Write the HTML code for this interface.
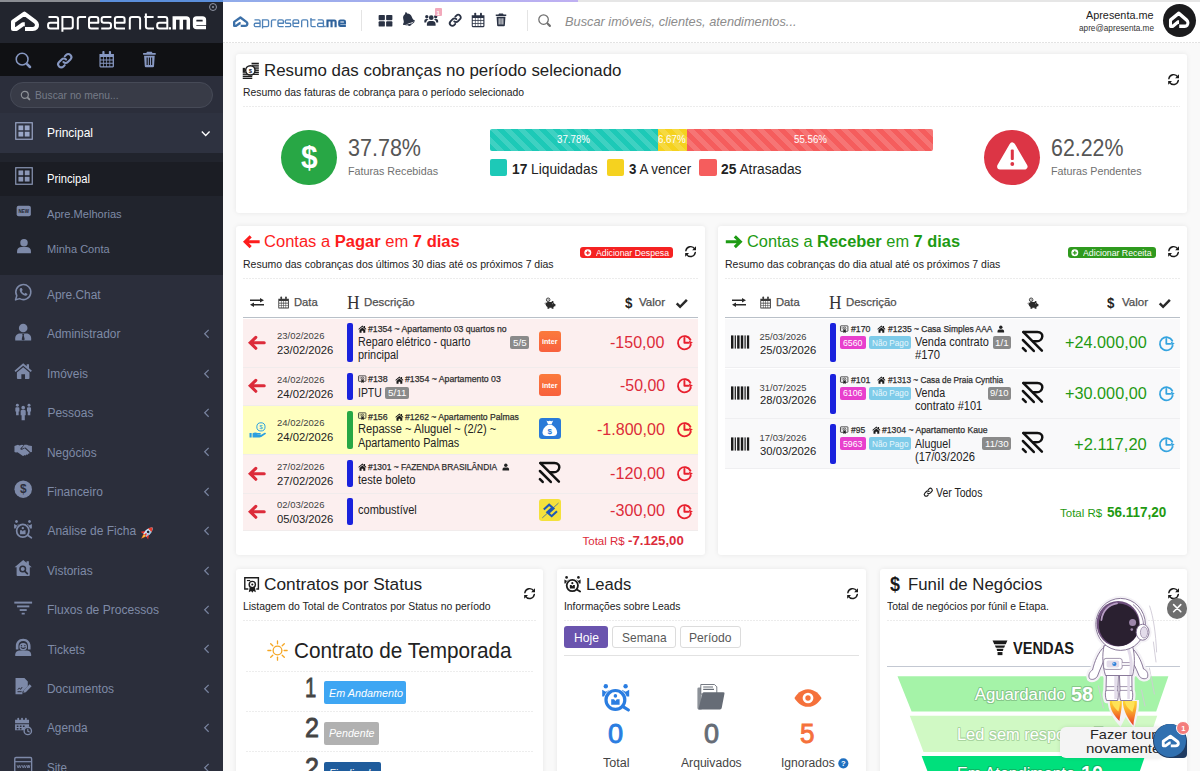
<!DOCTYPE html>
<html lang="pt-br">
<head>
<meta charset="utf-8">
<title>Apresenta.me</title>
<style>
*{box-sizing:border-box;margin:0;padding:0}
html,body{width:1200px;height:771px;overflow:hidden}
body{background:#f9f9f9;font-family:"Liberation Sans",sans-serif;color:#222;position:relative}
.abs{position:absolute}
.t{position:absolute;white-space:nowrap;line-height:1}
svg{display:block;overflow:visible}
#sb{position:absolute;left:0;top:0;width:223px;height:771px;background:#2b2e3b;overflow:hidden}
#sb .logo{position:absolute;left:0;top:0;width:223px;height:43px;background:#22252e}
#sb .icons{position:absolute;left:0;top:43px;width:223px;height:33px;background:#101114}
#sb .search{position:absolute;left:10px;top:82px;width:203px;height:26px;border-radius:13px;background:#383b47;border:1px solid #464a57}
#sb .hd{position:absolute;left:0;top:113px;width:223px;height:39.5px;background:#2e3240}
#sb .sub{position:absolute;left:0;top:152.5px;width:223px;height:122px;background:#21242d}
#sb .act{position:absolute;left:0;top:162px;width:223px;height:34px;background:#1b1d24}
#tb{position:absolute;left:223px;top:0;width:977px;height:43px;background:#fff;background-image:repeating-linear-gradient(90deg,#e3e3e3 0 2px,#fff 2px 3px);background-size:100% 1px;background-position:0 100%;background-repeat:no-repeat}
.card{position:absolute;background:#fff;border-radius:3px;box-shadow:0 0 5px rgba(0,0,0,.08)}
.bdg{position:absolute;border-radius:2px;color:#fff;text-align:center;white-space:nowrap;line-height:1}
</style>
</head>
<body>
<div id="sb">
<div class="logo"></div><div class="icons"></div><div class="search"></div><div class="hd"></div><div class="sub"></div><div class="act"></div>
<div class="abs" style="left:0;top:0;width:100px;height:2px;background:#8a8d93"></div>
<div class="abs" style="left:100px;top:0;width:123px;height:2px;background:#5b8fdc"></div>
<svg class="abs" style="left:10.9px;top:10.9px" width="28" height="20" viewBox="10.9 10.9 28 20"><path d="M24.9 28.95 H32.6 C35.6 28.95 37.1 26.8 36.85 24.5 C36.7 23.3 36.1 22.3 35.05 21.55 L24.3 13.55 L12.95 21.6 V28.85 H16.4 L23.0 24.1 H24.7" fill="none" stroke="#fff" stroke-width="4.1" stroke-linejoin="round" stroke-linecap="butt"/></svg>
<svg class="abs" style="left:46px;top:12px" width="162" height="21" viewBox="46 12 162 21"><path d="M48.5 17.0 H55.800000000000004 Q58.1 17.0 58.1 19.3 V29.5 M58.1 22.75 H50.4 Q48.1 22.75 48.1 25.05 V26.2 Q48.1 28.5 50.4 28.5 H58.1 M62.4 16.0 V31.7 M62.4 17.0 H70.5 Q72.8 17.0 72.8 19.3 V26.2 Q72.8 28.5 70.5 28.5 H62.4 M77.8 29.5 V19.3 Q77.8 17.0 80.1 17.0 H86.1 M98.7 28.5 H91.3 Q89.0 28.5 89.0 26.2 V19.3 Q89.0 17.0 91.3 17.0 H96.0 Q98.3 17.0 98.3 19.3 V22.75 H89.0 M111.4 17.0 H103.89999999999999 Q101.6 17.0 101.6 19.3 V20.45 Q101.6 22.75 103.89999999999999 22.75 H108.7 Q111.0 22.75 111.0 25.05 V26.2 Q111.0 28.5 108.7 28.5 H101.19999999999999 M125.0 28.5 H117.2 Q114.9 28.5 114.9 26.2 V19.3 Q114.9 17.0 117.2 17.0 H122.3 Q124.6 17.0 124.6 19.3 V22.75 H114.9 M129.8 29.5 V19.3 Q129.8 17.0 132.10000000000002 17.0 H137.79999999999998 Q140.1 17.0 140.1 19.3 V29.5 M145.9 13.6 V26.2 Q145.9 28.5 148.20000000000002 28.5 H154.0 M144.3 17.0 H153.6 M157.6 17.0 H165.0 Q167.3 17.0 167.3 19.3 V29.5 M167.3 22.75 H159.5 Q157.2 22.75 157.2 25.05 V26.2 Q157.2 28.5 159.5 28.5 H167.3" fill="none" stroke="#fff" stroke-width="2.0" stroke-linecap="butt" stroke-linejoin="round"/><rect x="168.8" y="27.2" width="2.2" height="2.3" fill="#fff"/><path d="M174.3 29.5 V18.0 H186.3 Q188.3 18.0 188.3 20.0 V29.5 M181.3 18.0 V29.5 M206.0 27.5 H196.6 Q194.6 27.5 194.6 25.5 V20.0 Q194.6 18.0 196.6 18.0 H202.4 Q204.4 18.0 204.4 20.0 V23.15 H194.6" fill="none" stroke="#fff" stroke-width="3.5" stroke-linecap="butt" stroke-linejoin="miter"/></svg>
<div class="abs" style="left:209px;top:3px;width:8px;height:8px;border-radius:50%;border:1.3px solid #8e94a3"></div>
<div class="abs" style="left:211.7px;top:5.7px;width:2.6px;height:2.6px;border-radius:50%;background:#8e94a3"></div>
<svg class="abs" style="left:13.6px;top:50.8px" width="18.6" height="18.6" viewBox="0 0 24 24"><circle cx="10.5" cy="10.5" r="7.6" fill="none" stroke="#8798c2" stroke-width="2.0"/><path d="M17.2 17.2 L20.6 20.6" stroke="#8798c2" stroke-width="3.4" stroke-linecap="round"/></svg>
<svg class="abs" style="left:56px;top:51.5px" width="17.5" height="17.5" viewBox="0 0 24 24"><g fill="none" stroke="#8798c2" stroke-width="2.8" stroke-linecap="round"><path d="M10.2 13.8 a4.2 4.2 0 0 0 6 0 l3.6 -3.6 a4.24 4.24 0 0 0 -6 -6 l-1.8 1.8"/><path d="M13.8 10.2 a4.2 4.2 0 0 0 -6 0 l-3.6 3.6 a4.24 4.24 0 0 0 6 6 l1.8 -1.8"/></g></svg>
<svg class="abs" style="left:98px;top:50.2px" width="17.4" height="18.6" viewBox="0 0 24 25"><path fill="#8798c2" fill-rule="evenodd" d="M2 5.2 h20 v17 a1.6 1.6 0 0 1 -1.6 1.6 h-16.8 a1.6 1.6 0 0 1 -1.6 -1.6 z M3.6 9.4 v3.4 h3.4 v-3.4 z M8.0 9.4 v3.4 h3.4 v-3.4 z M12.4 9.4 v3.4 h3.4 v-3.4 z M16.8 9.4 v3.4 h3.4 v-3.4 z M3.6 14.0 v3.4 h3.4 v-3.4 z M8.0 14.0 v3.4 h3.4 v-3.4 z M12.4 14.0 v3.4 h3.4 v-3.4 z M16.8 14.0 v3.4 h3.4 v-3.4 z M3.6 18.6 v3.4 h3.4 v-3.4 z M8.0 18.6 v3.4 h3.4 v-3.4 z M12.4 18.6 v3.4 h3.4 v-3.4 z M16.8 18.6 v3.4 h3.4 v-3.4 z "/><rect x="6" y="1" width="3" height="6.4" rx="1.2" fill="#8798c2"/><rect x="15" y="1" width="3" height="6.4" rx="1.2" fill="#8798c2"/></svg>
<svg class="abs" style="left:140.5px;top:50px" width="16.8" height="18.8" viewBox="0 0 24 25"><path fill="#8798c2" d="M8.6 1.4 h6.8 l1 2 h4.6 v2.6 h-18 v-2.6 h4.6 z"/><path fill="#8798c2" fill-rule="evenodd" d="M4.4 7.2 h15.2 l-1 15 a1.6 1.6 0 0 1 -1.6 1.4 h-10 a1.6 1.6 0 0 1 -1.6 -1.4 z M8 9.8 v10.6 h1.6 v-10.6 z M11.2 9.8 v10.6 h1.6 v-10.6 z M14.4 9.8 v10.6 h1.6 v-10.6 z"/></svg>
<svg class="abs" style="left:19.5px;top:89.5px" width="11" height="11" viewBox="0 0 24 24"><circle cx="10.5" cy="10.5" r="7.6" fill="none" stroke="#8f9399" stroke-width="2.6"/><path d="M17.2 17.2 L20.6 20.6" stroke="#8f9399" stroke-width="4.0" stroke-linecap="round"/></svg>
<span class="t" style="top:90.00px;font-size:11.5px;color:#767b88;left:35.00px;transform:scaleX(0.8947);transform-origin:0 50%;">Buscar no menu...</span>
<svg class="abs" style="left:14.6px;top:121.6px" width="18" height="18" viewBox="0 0 24 24"><rect x="1" y="1" width="22" height="22" fill="none" stroke="#9aa6c6" stroke-width="1.6"/><rect x="4.6" y="4.6" width="6.4" height="6.4" fill="#9aa6c6"/><rect x="13" y="4.6" width="6.4" height="6.4" fill="#9aa6c6"/><rect x="4.6" y="13" width="6.4" height="6.4" fill="#9aa6c6"/><rect x="13" y="13" width="6.4" height="6.4" fill="#9aa6c6"/></svg>
<span class="t" style="top:126.00px;font-size:13px;color:#fff;left:47.40px;transform:scaleX(0.9226);transform-origin:0 50%;">Principal</span>
<svg class="abs" style="left:201.4px;top:130px" width="9.4" height="7" viewBox="0 0 12 9"><path d="M1 2 L6 7 L11 2" fill="none" stroke="#fff" stroke-width="1.7"/></svg>
<svg class="abs" style="left:14.6px;top:167px" width="18" height="18" viewBox="0 0 24 24"><rect x="1" y="1" width="22" height="22" fill="none" stroke="#8b97b6" stroke-width="1.6"/><rect x="4.6" y="4.6" width="6.4" height="6.4" fill="#8b97b6"/><rect x="13" y="4.6" width="6.4" height="6.4" fill="#8b97b6"/><rect x="4.6" y="13" width="6.4" height="6.4" fill="#8b97b6"/><rect x="13" y="13" width="6.4" height="6.4" fill="#8b97b6"/></svg>
<span class="t" style="top:173.00px;font-size:12.3px;color:#fff;left:47.40px;transform:scaleX(0.9116);transform-origin:0 50%;">Principal</span>
<svg class="abs" style="left:16px;top:203px" width="15.5" height="16" viewBox="0 0 24 24"><rect x="1" y="4" width="22" height="16" rx="3" fill="#7d89a8"/><text x="12" y="14.6" font-family="Liberation Sans" font-size="7" font-weight="700" text-anchor="middle" fill="#21242d">NEW</text></svg>
<span class="t" style="top:209.00px;font-size:11.4px;color:#7f8ba7;left:47.40px;transform:scaleX(0.9738);transform-origin:0 50%;">Apre.Melhorias</span>
<svg class="abs" style="left:16px;top:237px;" width="16" height="18" viewBox="0 0 24 24"><circle cx="12" cy="7" r="5.6" fill="#7d89a8"/><path fill="#7d89a8" d="M1.6 23 v-3.4 c0 -4 3.4 -6 6.4 -6 h8 c3 0 6.4 2 6.4 6 v3.4 z"/></svg>
<span class="t" style="top:244.00px;font-size:11.4px;color:#7f8ba7;left:47.40px;transform:scaleX(0.9691);transform-origin:0 50%;">Minha Conta</span>
<span class="t" style="top:289.00px;font-size:12px;color:#7f8ba7;left:47.40px;transform:scaleX(0.9920);transform-origin:0 50%;">Apre.Chat</span>
<svg class="abs" style="left:14.3px;top:283.4px" width="18.4" height="18.4" viewBox="0 0 24 24"><path fill="none" stroke="#7d89a8" stroke-width="2" stroke-linejoin="round" d="M2 22 l1.6 -5.4 a9.8 9.8 0 1 1 3.8 3.8 z"/><path fill="#7d89a8" d="M8.6 6.6 c-0.8 0.6 -1.4 1.6 -1.2 2.8 c0.6 3.4 3.8 6.6 7.2 7.2 c1.2 0.2 2.2 -0.4 2.8 -1.2 l0.2 -1.2 l-2.6 -1.4 l-1.2 1.2 c-1.6 -0.6 -3 -2 -3.6 -3.6 l1.2 -1.2 l-1.4 -2.8 z"/></svg>
<span class="t" style="top:328.00px;font-size:12px;color:#7f8ba7;left:47.40px;transform:scaleX(0.9915);transform-origin:0 50%;">Administrador</span>
<svg class="abs" style="left:14.3px;top:322.79999999999995px" width="18.4" height="18.4" viewBox="0 0 24 24"><circle cx="12" cy="6.6" r="5.6" fill="#7d89a8"/><path fill="#7d89a8" d="M1.6 23 v-3 c0 -4 3 -6.2 6.4 -6.2 h8 c3.4 0 6.4 2.2 6.4 6.2 v3 z"/><path fill="#2b2e3b" d="M10.6 14 h2.8 l-0.6 2 l1.2 5.6 l-2 1.4 l-2 -1.4 l1.2 -5.6 z"/></svg>
<svg class="abs" style="left:203.4px;top:329.2px" width="6.5" height="9.6" viewBox="0 0 8 12"><path d="M7 1 L2 6 L7 11" fill="none" stroke="#7984a0" stroke-width="1.5"/></svg>
<span class="t" style="top:368.00px;font-size:12px;color:#7f8ba7;left:47.40px;transform:scaleX(0.9917);transform-origin:0 50%;">Imóveis</span>
<svg class="abs" style="left:14.3px;top:362.19999999999993px" width="18.4" height="18.4" viewBox="0 0 24 24"><path fill="#7d89a8" d="M12 1.6 L0.6 11.4 L2.2 13.2 L12 4.8 L21.8 13.2 L23.4 11.4 L19.6 8.1 V3 H16.6 V5.5 Z"/><path fill="#7d89a8" d="M12 6.8 L3.8 13.8 V21 a1.2 1.2 0 0 0 1.2 1.2 H9.6 V16 h4.8 v6.2 H19 a1.2 1.2 0 0 0 1.2 -1.2 V13.8 Z"/></svg>
<svg class="abs" style="left:203.4px;top:368.59999999999997px" width="6.5" height="9.6" viewBox="0 0 8 12"><path d="M7 1 L2 6 L7 11" fill="none" stroke="#7984a0" stroke-width="1.5"/></svg>
<span class="t" style="top:407.00px;font-size:12px;color:#7f8ba7;left:47.40px;">Pessoas</span>
<svg class="abs" style="left:14.3px;top:401.5999999999999px" width="18.4" height="18.4" viewBox="0 0 24 24"><circle cx="4.4" cy="4.32" r="1.92" fill="#7d89a8"/><path fill="#7d89a8" d="M1.76 8.24 a1.4 1.4 0 0 1 1.4 -1.4 h2.48 a1.4 1.4 0 0 1 1.4 1.4 v4.08 h-0.96 v5.12 h-3.36 v-5.12 h-0.96 z"/><circle cx="12" cy="7.4" r="2.40" fill="#7d89a8"/><path fill="#7d89a8" d="M8.70 11.80 a1.4 1.4 0 0 1 1.4 -1.4 h3.80 a1.4 1.4 0 0 1 1.4 1.4 v5.60 h-1.20 v6.40 h-4.20 v-6.40 h-1.20 z"/><circle cx="19.6" cy="4.32" r="1.92" fill="#7d89a8"/><path fill="#7d89a8" d="M16.96 8.24 a1.4 1.4 0 0 1 1.4 -1.4 h2.48 a1.4 1.4 0 0 1 1.4 1.4 v4.08 h-0.96 v5.12 h-3.36 v-5.12 h-0.96 z"/></svg>
<svg class="abs" style="left:203.4px;top:407.99999999999994px" width="6.5" height="9.6" viewBox="0 0 8 12"><path d="M7 1 L2 6 L7 11" fill="none" stroke="#7984a0" stroke-width="1.5"/></svg>
<span class="t" style="top:447.00px;font-size:12px;color:#7f8ba7;left:47.40px;transform:scaleX(0.9914);transform-origin:0 50%;">Negócios</span>
<svg class="abs" style="left:14.3px;top:440.9999999999999px" width="18.4" height="18.4" viewBox="0 0 24 24"><path fill="#7d89a8" d="M0.6 6.4 L5.2 5 L7 6 L10.4 4.8 L12.6 5.6 L8.6 9.4 C8 10.2 8.4 11.2 9.4 11.4 C10.6 11.6 11.6 10.8 12.6 10 L14 9.6 L20 15 C20.6 15.8 20 16.8 19 16.6 L18.2 16.2 C18.6 17.2 17.8 18 16.8 17.8 L16 17.4 C16.2 18.4 15.4 19 14.4 18.8 L13.4 18.4 C13.2 19.4 12.2 19.8 11.2 19.2 L4.6 14.6 L2.6 15 L0.6 14.4 Z"/><path fill="#7d89a8" d="M13.6 5 L17 4.8 L19 5.8 L23.4 6.4 V14.4 L21.6 14.8 L15 8.6 L12.4 9.2 C11.6 9.8 10.6 10.4 9.8 10.2 L13.6 5 Z" opacity="0.95"/></svg>
<svg class="abs" style="left:203.4px;top:447.3999999999999px" width="6.5" height="9.6" viewBox="0 0 8 12"><path d="M7 1 L2 6 L7 11" fill="none" stroke="#7984a0" stroke-width="1.5"/></svg>
<span class="t" style="top:486.00px;font-size:12px;color:#7f8ba7;left:47.40px;transform:scaleX(0.9959);transform-origin:0 50%;">Financeiro</span>
<svg class="abs" style="left:14.3px;top:480.39999999999986px" width="18.4" height="18.4" viewBox="0 0 24 24"><circle cx="12" cy="12" r="11.4" fill="#7d89a8"/><text x="12" y="17.6" font-family="Liberation Sans" font-size="15.5" font-weight="700" text-anchor="middle" fill="#2b2e3b">$</text></svg>
<svg class="abs" style="left:203.4px;top:486.7999999999999px" width="6.5" height="9.6" viewBox="0 0 8 12"><path d="M7 1 L2 6 L7 11" fill="none" stroke="#7984a0" stroke-width="1.5"/></svg>
<span class="t" style="top:525.00px;font-size:12px;color:#7f8ba7;left:47.40px;">Análise de Ficha</span>
<svg class="abs" style="left:14.3px;top:519.7999999999998px" width="18.4" height="18.4" viewBox="0 0 24 24"><g transform="scale(0.857 0.889)"><circle cx="3.8" cy="2.3" r="2.2" fill="#7d89a8"/><path fill="#7d89a8" d="M0.2 5.8 L3.8 7.8 L7.4 5.8 V12.4 H0.2 Z"/><circle cx="23.6" cy="2.3" r="2.2" fill="#7d89a8"/><path fill="#7d89a8" d="M20 5.8 L23.6 7.8 L27.2 5.8 V12.4 H20 Z"/><circle cx="13.4" cy="15.9" r="11.4" fill="#2b2e3b"/><circle cx="13.4" cy="15.9" r="9.4" fill="none" stroke="#7d89a8" stroke-width="2.6"/><path d="M21.4 22.8 L26.4 26" stroke="#7d89a8" stroke-width="2.6" stroke-linecap="round"/><circle cx="13.4" cy="11.9" r="1.8" fill="#7d89a8"/><path fill="#7d89a8" d="M9.2 15.2 H12 L13.4 17 L14.8 15.2 H17.6 V20.8 H9.2 Z"/></g></svg>
<svg class="abs" style="left:203.4px;top:526.1999999999998px" width="6.5" height="9.6" viewBox="0 0 8 12"><path d="M7 1 L2 6 L7 11" fill="none" stroke="#7984a0" stroke-width="1.5"/></svg>
<svg class="abs" style="left:138.6px;top:524.8px" width="16" height="16" viewBox="0 0 24 24"><g transform="rotate(45 12 12)"><path fill="#cde4f6" d="M12 0.4 C16.4 4 17 10 15.8 16.6 H8.2 C7 10 7.6 4 12 0.4 Z"/><path fill="#9fc3e0" d="M12 0.4 C16.4 4 17 10 15.8 16.6 H13.4 C14.4 10 14 4 12 0.4 Z"/><path fill="#e83a2a" d="M12 0.4 C13.8 2 15 3.8 15.7 6 H8.3 C9 3.8 10.2 2 12 0.4 Z"/><circle cx="12" cy="9.6" r="2" fill="#1c2230"/><path fill="#e8302a" d="M8.2 11.6 L4 17.6 L8.6 16.8 Z M15.8 11.6 L20 17.6 L15.4 16.8 Z M10.8 13 H13.2 V18 H10.8 Z"/><path fill="#f26a2a" d="M9.2 16.8 H14.8 L12 24.4 Z"/><path fill="#fdd23a" d="M10.4 16.8 H13.6 L12 22 Z"/></g></svg>
<span class="t" style="top:565.00px;font-size:12px;color:#7f8ba7;left:47.40px;transform:scaleX(0.9957);transform-origin:0 50%;">Vistorias</span>
<svg class="abs" style="left:14.3px;top:559.1999999999998px" width="18.4" height="18.4" viewBox="0 0 24 24"><path fill="#7d89a8" d="M12 1.2 L0.8 10.8 L3.4 10.8 V21 a1.2 1.2 0 0 0 1.2 1.2 H19.4 a1.2 1.2 0 0 0 1.2 -1.2 V10.8 L23.2 10.8 L19.4 7.6 V2.8 H16.4 V5 Z"/><circle cx="11.4" cy="13" r="3.6" fill="none" stroke="#2b2e3b" stroke-width="2"/><path d="M14 15.8 L17.4 19.2" stroke="#2b2e3b" stroke-width="2.4" stroke-linecap="round"/></svg>
<svg class="abs" style="left:203.4px;top:565.5999999999998px" width="6.5" height="9.6" viewBox="0 0 8 12"><path d="M7 1 L2 6 L7 11" fill="none" stroke="#7984a0" stroke-width="1.5"/></svg>
<span class="t" style="top:604.00px;font-size:12px;color:#7f8ba7;left:47.40px;transform:scaleX(1.0055);transform-origin:0 50%;">Fluxos de Processos</span>
<svg class="abs" style="left:14.3px;top:598.5999999999998px" width="18.4" height="18.4" viewBox="0 0 24 24"><rect x="0.4" y="3.4" width="23.2" height="2.6" fill="#7d89a8"/><rect x="4" y="8.4" width="16" height="2.5" fill="#7d89a8"/><rect x="7.4" y="13.2" width="9.2" height="2.4" fill="#7d89a8"/><rect x="10" y="18" width="4" height="2.2" fill="#7d89a8"/></svg>
<svg class="abs" style="left:203.4px;top:604.9999999999998px" width="6.5" height="9.6" viewBox="0 0 8 12"><path d="M7 1 L2 6 L7 11" fill="none" stroke="#7984a0" stroke-width="1.5"/></svg>
<span class="t" style="top:644.00px;font-size:12px;color:#7f8ba7;left:47.40px;">Tickets</span>
<svg class="abs" style="left:14.3px;top:637.9999999999998px" width="18.4" height="18.4" viewBox="0 0 24 24"><path fill="#7d89a8" d="M12 1 C6 1 2.4 5.2 2.4 10.6 V15 h3.4 V10 C5.8 6.4 8.4 4 12 4 C15.6 4 18.2 6.4 18.2 10 V15 h3.4 V10.6 C21.6 5.2 18 1 12 1 Z"/><circle cx="12" cy="11.4" r="5" fill="#7d89a8"/><path fill="#7d89a8" d="M1.6 23.4 v-2 c0 -3.4 3 -5 5.6 -5 h9.6 c2.6 0 5.6 1.6 5.6 5 v2 z"/><path d="M9.4 12.6 q2.6 2 5.2 0" fill="none" stroke="#2b2e3b" stroke-width="1.4" stroke-linecap="round"/><circle cx="9.8" cy="10" r="0.9" fill="#2b2e3b"/><circle cx="14.2" cy="10" r="0.9" fill="#2b2e3b"/></svg>
<svg class="abs" style="left:203.4px;top:644.3999999999997px" width="6.5" height="9.6" viewBox="0 0 8 12"><path d="M7 1 L2 6 L7 11" fill="none" stroke="#7984a0" stroke-width="1.5"/></svg>
<span class="t" style="top:683.00px;font-size:12px;color:#7f8ba7;left:47.40px;transform:scaleX(0.9944);transform-origin:0 50%;">Documentos</span>
<svg class="abs" style="left:14.3px;top:677.3999999999997px" width="18.4" height="18.4" viewBox="0 0 24 24"><path fill="#7d89a8" d="M2 1.4 H13.6 L18 6 V12 L11 19.4 V22.6 H2 Z"/><path d="M5 16.6 l2 -2.4 l1.6 2 l2 -3" stroke="#2b2e3b" stroke-width="1.3" fill="none"/><path d="M4.6 19.2 H10" stroke="#2b2e3b" stroke-width="1.3"/><path fill="#7d89a8" d="M20.4 9.4 L23 12 L15.4 19.8 L12.2 20.6 L13 17.2 Z"/></svg>
<svg class="abs" style="left:203.4px;top:683.7999999999997px" width="6.5" height="9.6" viewBox="0 0 8 12"><path d="M7 1 L2 6 L7 11" fill="none" stroke="#7984a0" stroke-width="1.5"/></svg>
<span class="t" style="top:722.00px;font-size:12px;color:#7f8ba7;left:47.40px;transform:scaleX(0.9813);transform-origin:0 50%;">Agenda</span>
<svg class="abs" style="left:14.3px;top:716.7999999999997px" width="18.4" height="18.4" viewBox="0 0 24 24"><path fill="#7d89a8" fill-rule="evenodd" d="M1.4 3.6 H19.6 V8 H1.4 Z M1.4 9.4 H19.6 V13 C17 12 13.4 13.4 12.6 17.4 H1.4 Z M3.6 11 v2 h2.2 v-2 z M7.6 11 v2 h2.2 v-2 z M11.6 11 v2 h2.2 v-2 z M3.6 14.4 v2 h2.2 v-2 z M7.6 14.4 v2 h2.2 v-2 z"/><rect x="4.4" y="1" width="2.2" height="4.6" rx="1" fill="#7d89a8"/><rect x="9.4" y="1" width="2.2" height="4.6" rx="1" fill="#7d89a8"/><rect x="14.4" y="1" width="2.2" height="4.6" rx="1" fill="#7d89a8"/><circle cx="18" cy="18.2" r="4.8" fill="none" stroke="#7d89a8" stroke-width="1.8"/><path d="M18 15.6 V18.4 L20 19.6" fill="none" stroke="#7d89a8" stroke-width="1.5" stroke-linecap="round"/></svg>
<svg class="abs" style="left:203.4px;top:723.1999999999997px" width="6.5" height="9.6" viewBox="0 0 8 12"><path d="M7 1 L2 6 L7 11" fill="none" stroke="#7984a0" stroke-width="1.5"/></svg>
<span class="t" style="top:762.00px;font-size:12px;color:#7f8ba7;left:47.40px;transform:scaleX(0.9668);transform-origin:0 50%;">Site</span>
<svg class="abs" style="left:14.3px;top:756.1999999999997px" width="18.4" height="18.4" viewBox="0 0 24 24"><rect x="1" y="2" width="22" height="21" rx="1.6" fill="none" stroke="#7d89a8" stroke-width="1.8"/><path d="M1 7.4 H23" stroke="#7d89a8" stroke-width="1.6"/><path d="M4 12 l1.4 3.6 l1.4 -3.6 l1.4 3.6 l1.4 -3.6 M10.6 12 l1.4 3.6 l1.4 -3.6 l1.4 3.6 l1.4 -3.6 M17 12 l0.9 3.6 l0.9 -3.6 l0.9 3.6 l0.9 -3.6" fill="none" stroke="#7d89a8" stroke-width="1.1"/></svg>
<svg class="abs" style="left:203.4px;top:762.5999999999997px" width="6.5" height="9.6" viewBox="0 0 8 12"><path d="M7 1 L2 6 L7 11" fill="none" stroke="#7984a0" stroke-width="1.5"/></svg>
</div>
<div id="tb"></div>
<div class="abs" style="left:223px;top:0;width:355px;height:2px;background:linear-gradient(90deg,#8fabea,#bfb0f2)"></div>
<div class="abs" style="left:578px;top:0;width:622px;height:2px;background:#e6e6e6"></div>
<svg class="abs" style="left:233.3px;top:15.5px" width="15.5" height="11" viewBox="10.9 10.9 28 20"><path d="M24.9 28.95 H32.6 C35.6 28.95 37.1 26.8 36.85 24.5 C36.7 23.3 36.1 22.3 35.05 21.55 L24.3 13.55 L12.95 21.6 V28.85 H16.4 L23.0 24.1 H24.7" fill="none" stroke="#3c70a8" stroke-width="4.3" stroke-linejoin="round" stroke-linecap="butt"/></svg>
<svg class="abs" style="left:252.7px;top:16.84px" width="94.07" height="12.19" viewBox="46 12 162 21"><path d="M48.5 17.0 H55.800000000000004 Q58.1 17.0 58.1 19.3 V29.5 M58.1 22.75 H50.4 Q48.1 22.75 48.1 25.05 V26.2 Q48.1 28.5 50.4 28.5 H58.1 M62.4 16.0 V31.7 M62.4 17.0 H70.5 Q72.8 17.0 72.8 19.3 V26.2 Q72.8 28.5 70.5 28.5 H62.4 M77.8 29.5 V19.3 Q77.8 17.0 80.1 17.0 H86.1 M98.7 28.5 H91.3 Q89.0 28.5 89.0 26.2 V19.3 Q89.0 17.0 91.3 17.0 H96.0 Q98.3 17.0 98.3 19.3 V22.75 H89.0 M111.4 17.0 H103.89999999999999 Q101.6 17.0 101.6 19.3 V20.45 Q101.6 22.75 103.89999999999999 22.75 H108.7 Q111.0 22.75 111.0 25.05 V26.2 Q111.0 28.5 108.7 28.5 H101.19999999999999 M125.0 28.5 H117.2 Q114.9 28.5 114.9 26.2 V19.3 Q114.9 17.0 117.2 17.0 H122.3 Q124.6 17.0 124.6 19.3 V22.75 H114.9 M129.8 29.5 V19.3 Q129.8 17.0 132.10000000000002 17.0 H137.79999999999998 Q140.1 17.0 140.1 19.3 V29.5 M145.9 13.6 V26.2 Q145.9 28.5 148.20000000000002 28.5 H154.0 M144.3 17.0 H153.6 M157.6 17.0 H165.0 Q167.3 17.0 167.3 19.3 V29.5 M167.3 22.75 H159.5 Q157.2 22.75 157.2 25.05 V26.2 Q157.2 28.5 159.5 28.5 H167.3" fill="none" stroke="#4f82b8" stroke-width="2.3" stroke-linecap="butt" stroke-linejoin="round"/><rect x="168.8" y="27.2" width="2.2" height="2.3" fill="#2f639c"/><path d="M174.3 29.5 V18.0 H186.3 Q188.3 18.0 188.3 20.0 V29.5 M181.3 18.0 V29.5 M206.0 27.5 H196.6 Q194.6 27.5 194.6 25.5 V20.0 Q194.6 18.0 196.6 18.0 H202.4 Q204.4 18.0 204.4 20.0 V23.15 H194.6" fill="none" stroke="#2f639c" stroke-width="3.7" stroke-linecap="butt" stroke-linejoin="miter"/></svg>
<div class="abs" style="left:360.5px;top:10px;width:1px;height:21px;background:#e4e4e4"></div>
<svg class="abs" style="left:377.8px;top:12.6px" width="15" height="15" viewBox="0 0 24 24"><rect x="1" y="3" width="10" height="8.4" rx="1.4" fill="#2a3244"/><rect x="13" y="3" width="10" height="8.4" rx="1.4" fill="#2a3244"/><rect x="1" y="13.2" width="10" height="8.4" rx="1.4" fill="#2a3244"/><rect x="13" y="13.2" width="10" height="8.4" rx="1.4" fill="#2a3244"/></svg>
<svg class="abs" style="left:400.4px;top:11.4px" width="15.6" height="15.6" viewBox="0 0 24 24"><g transform="rotate(-18 12 12)"><path fill="#2a3244" d="M12 1.6 a1.5 1.5 0 0 1 1.5 1.5 v0.7 c3.4 0.8 5.3 3.6 5.3 7 c0 4 1.2 5.4 2.4 6.6 c0.5 0.6 0.2 1.8 -0.9 1.8 H3.7 c-1.1 0 -1.4 -1.2 -0.9 -1.8 c1.2 -1.2 2.4 -2.6 2.4 -6.6 c0 -3.4 1.9 -6.2 5.3 -7 v-0.7 a1.5 1.5 0 0 1 1.5 -1.5 z"/><path fill="#2a3244" d="M9 20.4 h6 a3 3 0 0 1 -6 0 z"/></g><path d="M5 20 q9 4 17 -3" fill="none" stroke="#2a3244" stroke-width="1.4"/></svg>
<svg class="abs" style="left:424px;top:13px" width="14.5" height="13.5" viewBox="0 0 24 23"><circle cx="12" cy="8" r="4" fill="#2a3244"/><path fill="#2a3244" d="M4.6 21.6 v-3 c0 -3.2 2.4 -5 5 -5 h4.8 c2.6 0 5 1.8 5 5 v3 z"/><circle cx="4.4" cy="6.4" r="2.8" fill="#2a3244"/><path fill="#2a3244" d="M0.2 16 v-2.4 c0 -2 1.4 -3.4 3.2 -3.4 h2 c0.8 0 1.4 0.2 2 0.6 c-2 1 -3.6 2.6 -4 5.2 z"/><circle cx="19.6" cy="6.4" r="2.8" fill="#2a3244"/><path fill="#2a3244" d="M23.8 16 v-2.4 c0 -2 -1.4 -3.4 -3.2 -3.4 h-2 c-0.8 0 -1.4 0.2 -2 0.6 c2 1 3.6 2.6 4 5.2 z"/></svg>
<div class="abs" style="left:435px;top:8px;width:6.5px;height:7.5px;background:#f2a9bb;border-radius:1px"></div>
<span class="t" style="top:10.00px;font-size:6px;color:#fff;font-weight:700;left:436.53px;">1</span>
<svg class="abs" style="left:447.6px;top:13px" width="14.6" height="14.6" viewBox="0 0 24 24"><g fill="none" stroke="#2a3244" stroke-width="3" stroke-linecap="round"><path d="M10.2 13.8 a4.2 4.2 0 0 0 6 0 l3.6 -3.6 a4.24 4.24 0 0 0 -6 -6 l-1.8 1.8"/><path d="M13.8 10.2 a4.2 4.2 0 0 0 -6 0 l-3.6 3.6 a4.24 4.24 0 0 0 6 6 l1.8 -1.8"/></g></svg>
<svg class="abs" style="left:470.2px;top:11.9px" width="16.2" height="15.9" viewBox="0 0 24 25"><path fill="#2a3244" fill-rule="evenodd" d="M2 5.2 h20 v17 a1.6 1.6 0 0 1 -1.6 1.6 h-16.8 a1.6 1.6 0 0 1 -1.6 -1.6 z M3.6 9.4 v3.4 h3.4 v-3.4 z M8.0 9.4 v3.4 h3.4 v-3.4 z M12.4 9.4 v3.4 h3.4 v-3.4 z M16.8 9.4 v3.4 h3.4 v-3.4 z M3.6 14.0 v3.4 h3.4 v-3.4 z M8.0 14.0 v3.4 h3.4 v-3.4 z M12.4 14.0 v3.4 h3.4 v-3.4 z M16.8 14.0 v3.4 h3.4 v-3.4 z M3.6 18.6 v3.4 h3.4 v-3.4 z M8.0 18.6 v3.4 h3.4 v-3.4 z M12.4 18.6 v3.4 h3.4 v-3.4 z M16.8 18.6 v3.4 h3.4 v-3.4 z "/><rect x="6" y="1" width="3" height="6.4" rx="1.2" fill="#2a3244"/><rect x="15" y="1" width="3" height="6.4" rx="1.2" fill="#2a3244"/></svg>
<svg class="abs" style="left:493.5px;top:12.1px" width="14" height="15.8" viewBox="0 0 24 25"><path fill="#2a3244" d="M8.6 1.4 h6.8 l1 2 h4.6 v2.6 h-18 v-2.6 h4.6 z"/><path fill="#2a3244" fill-rule="evenodd" d="M4.4 7.2 h15.2 l-1 15 a1.6 1.6 0 0 1 -1.6 1.4 h-10 a1.6 1.6 0 0 1 -1.6 -1.4 z M8 9.8 v10.6 h1.6 v-10.6 z M11.2 9.8 v10.6 h1.6 v-10.6 z M14.4 9.8 v10.6 h1.6 v-10.6 z"/></svg>
<div class="abs" style="left:526.5px;top:10px;width:1px;height:21px;background:#e4e4e4"></div>
<svg class="abs" style="left:537px;top:13.2px" width="15" height="15" viewBox="0 0 24 24"><circle cx="10.5" cy="10.5" r="7.6" fill="none" stroke="#6f6f6f" stroke-width="2.0"/><path d="M17.2 17.2 L20.6 20.6" stroke="#6f6f6f" stroke-width="3.4" stroke-linecap="round"/></svg>
<span class="t" style="top:15.00px;font-size:13px;color:#8c8c8c;font-style:italic;left:564.50px;transform:scaleX(0.9828);transform-origin:0 50%;">Buscar imóveis, clientes, atendimentos...</span>
<span class="t" style="top:10.00px;font-size:11.4px;color:#222;left:1086.30px;transform:scaleX(0.9518);transform-origin:0 50%;">Apresenta.me</span>
<span class="t" style="top:24.00px;font-size:8.6px;color:#333;left:1078.80px;transform:scaleX(0.9556);transform-origin:0 50%;">apre@apresenta.me</span>
<div class="abs" style="left:1162.6px;top:3.6px;width:33px;height:33px;border-radius:50%;background:#1b1b1d"></div>
<svg class="abs" style="left:1169px;top:11.3px" width="20.4" height="16.9" viewBox="10.9 10.9 28 20" preserveAspectRatio="none"><path d="M24.9 28.95 H32.6 C35.6 28.95 37.1 26.8 36.85 24.5 C36.7 23.3 36.1 22.3 35.05 21.55 L24.3 13.55 L12.95 21.6 V28.85 H16.4 L23.0 24.1 H24.7" fill="none" stroke="#fff" stroke-width="4.2" stroke-linejoin="round" stroke-linecap="butt"/></svg>
<div class="card" style="left:236px;top:54px;width:951px;height:159px"></div>
<svg class="abs" style="left:242.3px;top:61.6px" width="17.6" height="17.6" viewBox="0 0 24 24"><rect x="13" y="1.0" width="10" height="1.7" fill="#1c1c1c"/><rect x="13" y="3.5" width="10" height="1.7" fill="#1c1c1c"/><rect x="13" y="6.0" width="10" height="1.7" fill="#1c1c1c"/><rect x="13" y="8.5" width="10" height="1.7" fill="#1c1c1c"/><rect x="13" y="11.0" width="10" height="1.7" fill="#1c1c1c"/><rect x="13" y="13.5" width="10" height="1.7" fill="#1c1c1c"/><rect x="13" y="16.0" width="10" height="1.7" fill="#1c1c1c"/><rect x="1" y="14.0" width="13" height="1.7" fill="#1c1c1c"/><rect x="1" y="16.5" width="13" height="1.7" fill="#1c1c1c"/><rect x="1" y="19.0" width="13" height="1.7" fill="#1c1c1c"/><rect x="1" y="21.5" width="13" height="1.7" fill="#1c1c1c"/><rect x="1" y="8" width="3" height="6" fill="#1c1c1c"/><circle cx="11.4" cy="11.4" r="6.4" fill="#fff" stroke="#1c1c1c" stroke-width="2"/><text x="11.4" y="14.4" font-family="Liberation Sans" font-size="8" font-weight="700" text-anchor="middle" fill="#1c1c1c">$</text></svg>
<span class="t" style="top:63.00px;font-size:16.8px;color:#222;left:264.30px;transform:scaleX(1.0058);transform-origin:0 50%;">Resumo das cobranças no período selecionado</span>
<span class="t" style="top:87.00px;font-size:11px;color:#222;left:243.00px;transform:scaleX(0.9416);transform-origin:0 50%;">Resumo das faturas de cobrança para o período selecionado</span>
<svg class="abs" style="left:1167px;top:73.2px" width="13.2" height="13.2" viewBox="0 0 24 24"><g fill="none" stroke="#1a1a1a" stroke-width="2.6" stroke-linecap="round"><path d="M3.4 10.4 A8.8 8.8 0 0 1 19.6 7.2"/><path d="M20.6 13.6 A8.8 8.8 0 0 1 4.4 16.8"/></g><path fill="#1a1a1a" d="M21.8 2.4 V9.4 H14.8 Z"/><path fill="#1a1a1a" d="M2.2 21.6 V14.6 H9.2 Z"/></svg>
<div class="abs" style="left:243px;top:106px;width:937px;height:1px;background:repeating-linear-gradient(90deg,#ececec 0 2px,transparent 2px 3px)"></div>
<div class="abs" style="left:281.3px;top:129.5px;width:55.6px;height:55.6px;border-radius:50%;background:#28a745"></div>
<span class="t" style="top:142.00px;font-size:30.5px;color:#fff;font-weight:700;left:300.90px;transform:scaleX(0.9783);transform-origin:0 50%;">$</span>
<span class="t" style="top:137.00px;font-size:23px;color:#565656;left:347.50px;transform:scaleX(0.9357);transform-origin:0 50%;">37.78%</span>
<span class="t" style="top:166.00px;font-size:11px;color:#707070;left:347.50px;transform:scaleX(0.9748);transform-origin:0 50%;">Faturas Recebidas</span>
<div class="abs" style="left:490px;top:129px;width:167.5px;height:21.6px;border-radius:2px 0 0 2px;background-color:#1dc9b7;background-image:linear-gradient(45deg,rgba(255,255,255,.15) 25%,transparent 25%,transparent 50%,rgba(255,255,255,.15) 50%,rgba(255,255,255,.15) 75%,transparent 75%,transparent);background-size:14px 14px;"></div>
<div class="abs" style="left:657.5px;top:129px;width:29.5px;height:21.6px;background-color:#f5d21f;background-image:linear-gradient(45deg,rgba(255,255,255,.15) 25%,transparent 25%,transparent 50%,rgba(255,255,255,.15) 50%,rgba(255,255,255,.15) 75%,transparent 75%,transparent);background-size:14px 14px;"></div>
<div class="abs" style="left:687px;top:129px;width:246.4px;height:21.6px;border-radius:0 2px 2px 0;background-color:#f55d5d;background-image:linear-gradient(45deg,rgba(255,255,255,.15) 25%,transparent 25%,transparent 50%,rgba(255,255,255,.15) 50%,rgba(255,255,255,.15) 75%,transparent 75%,transparent);background-size:14px 14px;"></div>
<span class="t" style="top:135.00px;font-size:10px;color:#fff;left:557.00px;transform:scaleX(0.9728);transform-origin:0 50%;">37.78%</span>
<span class="t" style="top:135.00px;font-size:10px;color:#fff;left:658.20px;transform:scaleX(0.9732);transform-origin:0 50%;">6.67%</span>
<span class="t" style="top:135.00px;font-size:10px;color:#fff;left:793.50px;transform:scaleX(0.9728);transform-origin:0 50%;">55.56%</span>
<div class="abs" style="left:490px;top:159.4px;width:17.3px;height:17px;border-radius:2px;background:#1dc9b7"></div>
<span class="t" style="top:162.00px;font-size:14px;color:#222;left:512.00px;transform:scaleX(0.9805);transform-origin:0 50%;"><b>17</b> Liquidadas</span>
<div class="abs" style="left:606.8px;top:159.4px;width:17.3px;height:17px;border-radius:2px;background:#f5d21f"></div>
<span class="t" style="top:162.00px;font-size:14px;color:#222;left:628.60px;transform:scaleX(0.9512);transform-origin:0 50%;"><b>3</b> A vencer</span>
<div class="abs" style="left:699.4px;top:159.4px;width:17.3px;height:17px;border-radius:2px;background:#f55d5d"></div>
<span class="t" style="top:162.00px;font-size:14px;color:#222;left:721.00px;transform:scaleX(0.9849);transform-origin:0 50%;"><b>25</b> Atrasadas</span>
<div class="abs" style="left:984.3px;top:129.5px;width:55.6px;height:55.6px;border-radius:50%;background:#dc3545"></div>
<svg class="abs" style="left:995.6px;top:140.6px" width="32.6" height="30" viewBox="0 0 32 30"><path d="M16 4.5 L28.2 25.6 H3.8 Z" fill="#fff" stroke="#fff" stroke-width="6" stroke-linejoin="round"/><rect x="14.5" y="8.4" width="3" height="10.6" rx="1" fill="#dc3545"/><circle cx="16" cy="23" r="1.9" fill="#dc3545"/></svg>
<span class="t" style="top:137.00px;font-size:23px;color:#565656;left:1050.80px;transform:scaleX(0.9293);transform-origin:0 50%;">62.22%</span>
<span class="t" style="top:166.00px;font-size:11px;color:#707070;left:1050.80px;transform:scaleX(0.9736);transform-origin:0 50%;">Faturas Pendentes</span>
<div class="card" style="left:236px;top:226px;width:469px;height:329px"></div>
<svg class="abs" style="left:242.6px;top:235.2px" width="17.4" height="13.4" viewBox="0 0 24 18.4"><path d="M23 9.2 H4 M10.6 1.8 L3 9.2 L10.6 16.6" fill="none" stroke="#fd1d1d" stroke-width="4.2" stroke-linecap="butt" stroke-linejoin="miter"/></svg>
<span class="t" style="top:234.00px;font-size:16px;color:#fd1d1d;left:264.30px;transform:scaleX(1.0331);transform-origin:0 50%;">Contas a <b>Pagar</b> em <b>7 dias</b></span>
<span class="t" style="top:259.00px;font-size:11px;color:#222;left:243.00px;transform:scaleX(0.9531);transform-origin:0 50%;">Resumo das cobranças dos últimos 30 dias até os próximos 7 dias</span>
<div class="abs" style="left:580px;top:246.8px;width:93px;height:11.2px;background:#f52222;border-radius:3px"></div>
<svg class="abs" style="left:583.6px;top:248.6px" width="7.6" height="7.6" viewBox="0 0 24 24"><circle cx="12" cy="12" r="11" fill="#fff"/><path d="M12 5.6 V18.4 M5.6 12 H18.4" stroke="#f52222" stroke-width="4"/></svg>
<span class="t" style="top:249.00px;font-size:9.2px;color:#fff;left:596.00px;transform:scaleX(0.9465);transform-origin:0 50%;">Adicionar Despesa</span>
<svg class="abs" style="left:684px;top:245.2px" width="13.2" height="13.2" viewBox="0 0 24 24"><g fill="none" stroke="#1a1a1a" stroke-width="2.6" stroke-linecap="round"><path d="M3.4 10.4 A8.8 8.8 0 0 1 19.6 7.2"/><path d="M20.6 13.6 A8.8 8.8 0 0 1 4.4 16.8"/></g><path fill="#1a1a1a" d="M21.8 2.4 V9.4 H14.8 Z"/><path fill="#1a1a1a" d="M2.2 21.6 V14.6 H9.2 Z"/></svg>
<div class="abs" style="left:243px;top:278px;width:455px;height:1px;background:repeating-linear-gradient(90deg,#ececec 0 2px,transparent 2px 3px)"></div>
<svg class="abs" style="left:250px;top:298.4px" width="14" height="9" viewBox="0 0 14 9"><path fill="#2a2a2a" d="M0 1.4 H10 V0 L14 2.2 L10 4.4 V3 H0 Z"/><path fill="#2a2a2a" d="M14 6 H4 V4.6 L0 6.8 L4 9 V7.6 H14 Z"/></svg>
<svg class="abs" style="left:277.2px;top:296px" width="13.2" height="13.2" viewBox="0 0 24 25"><path fill="#3a3a3a" fill-rule="evenodd" d="M2 5.2 h20 v17 a1.6 1.6 0 0 1 -1.6 1.6 h-16.8 a1.6 1.6 0 0 1 -1.6 -1.6 z M3.6 9.4 v3.4 h3.4 v-3.4 z M8.0 9.4 v3.4 h3.4 v-3.4 z M12.4 9.4 v3.4 h3.4 v-3.4 z M16.8 9.4 v3.4 h3.4 v-3.4 z M3.6 14.0 v3.4 h3.4 v-3.4 z M8.0 14.0 v3.4 h3.4 v-3.4 z M12.4 14.0 v3.4 h3.4 v-3.4 z M16.8 14.0 v3.4 h3.4 v-3.4 z M3.6 18.6 v3.4 h3.4 v-3.4 z M8.0 18.6 v3.4 h3.4 v-3.4 z M12.4 18.6 v3.4 h3.4 v-3.4 z M16.8 18.6 v3.4 h3.4 v-3.4 z "/><rect x="6" y="1" width="3" height="6.4" rx="1.2" fill="#3a3a3a"/><rect x="15" y="1" width="3" height="6.4" rx="1.2" fill="#3a3a3a"/></svg>
<span class="t" style="top:297.00px;font-size:11px;color:#505050;left:293.80px;transform:scaleX(1.0194);transform-origin:0 50%;-webkit-text-stroke:0.25px #505050;">Data</span>
<span class="t" style="top:294.00px;font-size:18px;color:#333;font-family:'Liberation Serif',serif;left:347.30px;transform:scaleX(0.9692);transform-origin:0 50%;">H</span>
<span class="t" style="top:297.00px;font-size:11px;color:#505050;left:363.80px;transform:scaleX(1.0367);transform-origin:0 50%;-webkit-text-stroke:0.25px #505050;">Descrição</span>
<svg class="abs" style="left:544px;top:296.5px" width="11.6" height="12.5" viewBox="0 0 24 24"><circle cx="8.6" cy="4.8" r="3.7" fill="#fff" stroke="#2a2a2a" stroke-width="1.8"/><path d="M8.6 2.8 V6.8" stroke="#2a2a2a" stroke-width="1.2"/><path fill="#2a2a2a" d="M3.6 13.6 C3.6 10.8 6.6 9.6 10.6 9.6 H15 L17.4 7.4 H19.4 V10.6 C20.8 11.4 21.4 12.6 21.8 13.6 H23.6 V18 H21.6 C21 19 20.2 19.6 19.6 20 V23.4 H15.8 V21.2 H11 V23.4 H7.2 V20 C4.8 18.6 3.6 16.4 3.6 13.6 Z"/><circle cx="18.2" cy="13.2" r="1" fill="#fff"/><path d="M4 13.8 C1.8 13.8 1.2 11.2 2.8 10.6" fill="none" stroke="#2a2a2a" stroke-width="1.3"/></svg>
<span class="t" style="top:296.00px;font-size:14.5px;color:#222;font-weight:700;left:625.00px;transform:scaleX(0.9161);transform-origin:0 50%;">$</span>
<span class="t" style="top:297.00px;font-size:11px;color:#505050;left:638.80px;transform:scaleX(1.0492);transform-origin:0 50%;-webkit-text-stroke:0.25px #505050;">Valor</span>
<svg class="abs" style="left:675.4px;top:297.8px" width="13.6" height="10.6" viewBox="0 0 24 20"><path d="M2.4 10.2 L8.8 16.6 L21.6 3.4" fill="none" stroke="#2a2a2a" stroke-width="4.8"/></svg>
<div class="abs" style="left:243px;top:317px;width:455px;height:1px;background:#b9c0c8"></div>
<div class="abs" style="left:242.6px;top:319px;width:455.4px;height:48.0px;background:#fcefef"></div>
<div class="abs" style="left:242.6px;top:367px;width:455.4px;height:1px;background:#f1ecec"></div>
<div class="abs" style="left:242.6px;top:368px;width:455.4px;height:37.0px;background:#fcefef"></div>
<div class="abs" style="left:242.6px;top:405px;width:455.4px;height:1px;background:#f1ecec"></div>
<div class="abs" style="left:242.6px;top:406px;width:455.4px;height:48.0px;background:#ffffbf"></div>
<div class="abs" style="left:242.6px;top:454px;width:455.4px;height:1px;background:#f1ecec"></div>
<div class="abs" style="left:242.6px;top:455px;width:455.4px;height:37.6px;background:#fcefef"></div>
<div class="abs" style="left:242.6px;top:493px;width:455.4px;height:1px;background:#f1ecec"></div>
<div class="abs" style="left:242.6px;top:494px;width:455.4px;height:35.6px;background:#fcefef"></div>
<div class="abs" style="left:242.6px;top:530px;width:455.4px;height:1px;background:#f1ecec"></div>
<svg class="abs" style="left:248.3px;top:336.0px" width="17.7" height="13.6" viewBox="0 0 24 18.4"><path d="M22 9.2 H4 M10.6 1.8 L3 9.2 L10.6 16.6" fill="none" stroke="#dc2b3a" stroke-width="4.2" stroke-linecap="round" stroke-linejoin="miter"/></svg>
<span class="t" style="top:331.00px;font-size:9.4px;color:#3f3f3f;left:277.00px;transform:scaleX(1.0102);transform-origin:0 50%;">23/02/2026</span>
<span class="t" style="top:345.00px;font-size:11.5px;color:#222;left:277.00px;transform:scaleX(0.9781);transform-origin:0 50%;">23/02/2026</span>
<div class="abs" style="left:347px;top:323.3px;width:6px;height:38.5px;background:#1a22dd;border-radius:2px"></div>
<svg class="abs" style="left:357.5px;top:325px" width="8.8" height="7.8" viewBox="0 0 24 22"><path fill="#1a1a1a" d="M12 1.6 L0.6 11.4 L2.2 13.2 L12 4.8 L21.8 13.2 L23.4 11.4 L19.6 8.1 V3 H16.6 V5.5 Z"/><path fill="#1a1a1a" d="M12 6.8 L3.8 13.8 V21 a1.2 1.2 0 0 0 1.2 1.2 H9.6 V16 h4.8 v6.2 H19 a1.2 1.2 0 0 0 1.2 -1.2 V13.8 Z"/></svg>
<span class="t" style="top:325.00px;font-size:9.2px;color:#2e2e2e;left:368.30px;transform:scaleX(0.9444);transform-origin:0 50%;-webkit-text-stroke:0.25px #2e2e2e;">#1354 ~ Apartamento 03 quartos no</span>
<span class="t" style="top:336.00px;font-size:12px;color:#222;left:357.50px;transform:scaleX(0.8923);transform-origin:0 50%;">Reparo elétrico - quarto</span>
<span class="t" style="top:349.00px;font-size:12px;color:#222;left:357.50px;transform:scaleX(0.9060);transform-origin:0 50%;">principal</span>
<div class="abs" style="left:510.2px;top:336.3px;width:18.8px;height:12.8px;background:#8a8a8a;border-radius:2px"></div>
<span class="t" style="top:338.00px;font-size:9.4px;color:#fff;left:512.80px;transform:scaleX(1.0424);transform-origin:0 50%;">5/5</span>
<div class="abs" style="left:539.2px;top:330.7px;width:21.6px;height:21.4px;border-radius:3px;background:linear-gradient(180deg,#fb7a3c,#f8603d)"></div>
<span class="t" style="top:338.00px;font-size:7.6px;color:#fff;font-weight:700;left:542.25px;transform:scaleX(0.9412);transform-origin:0 50%;">inter</span>
<span class="t" style="top:334.00px;font-size:16.4px;color:#dc2b3a;left:610.20px;transform:scaleX(0.9785);transform-origin:0 50%;">-150,00</span>
<svg class="abs" style="left:675.6px;top:333.6px" width="17.4" height="16.8" viewBox="0 0 24 24"><path d="M20.2 8.2 A9.4 9.4 0 1 0 20.8 15.4" fill="none" stroke="#e8202e" stroke-width="2.7" stroke-linecap="round"/><path d="M11.6 5.6 V12.6 H17.4" fill="none" stroke="#e8202e" stroke-width="2.7" stroke-linecap="round" stroke-linejoin="round"/><path fill="#e8202e" d="M18 9.4 L23.6 12.2 L19.2 15.4 Z"/></svg>
<svg class="abs" style="left:248.3px;top:379.4px" width="17.7" height="13.6" viewBox="0 0 24 18.4"><path d="M22 9.2 H4 M10.6 1.8 L3 9.2 L10.6 16.6" fill="none" stroke="#dc2b3a" stroke-width="4.2" stroke-linecap="round" stroke-linejoin="miter"/></svg>
<span class="t" style="top:375.00px;font-size:9.4px;color:#3f3f3f;left:277.00px;transform:scaleX(1.0102);transform-origin:0 50%;">24/02/2026</span>
<span class="t" style="top:389.00px;font-size:11.5px;color:#222;left:277.00px;transform:scaleX(0.9781);transform-origin:0 50%;">24/02/2026</span>
<div class="abs" style="left:347px;top:373px;width:6px;height:26.5px;background:#1a22dd;border-radius:2px"></div>
<svg class="abs" style="left:357.5px;top:375.3px" width="8.4" height="8.4" viewBox="0 0 24 24"><rect x="1.4" y="2.4" width="21.2" height="15.6" rx="1.4" fill="none" stroke="#222" stroke-width="2.2"/><circle cx="13" cy="10" r="4" fill="none" stroke="#222" stroke-width="2"/><circle cx="13" cy="10" r="1.4" fill="#222"/><path fill="#222" d="M9.6 13.6 V22.6 L13 20.4 L16.4 22.6 V13.6 Z"/><path d="M4.4 7 H7.4 M4.4 11 H6.8" stroke="#222" stroke-width="1.6"/></svg>
<span class="t" style="top:375.00px;font-size:9.2px;color:#2e2e2e;left:368.30px;transform:scaleX(0.9632);transform-origin:0 50%;-webkit-text-stroke:0.25px #2e2e2e;">#138</span>
<svg class="abs" style="left:394.5px;top:375.5px" width="8.8" height="7.8" viewBox="0 0 24 22"><path fill="#1a1a1a" d="M12 1.6 L0.6 11.4 L2.2 13.2 L12 4.8 L21.8 13.2 L23.4 11.4 L19.6 8.1 V3 H16.6 V5.5 Z"/><path fill="#1a1a1a" d="M12 6.8 L3.8 13.8 V21 a1.2 1.2 0 0 0 1.2 1.2 H9.6 V16 h4.8 v6.2 H19 a1.2 1.2 0 0 0 1.2 -1.2 V13.8 Z"/></svg>
<span class="t" style="top:375.00px;font-size:9.2px;color:#2e2e2e;left:405.00px;transform:scaleX(0.9495);transform-origin:0 50%;-webkit-text-stroke:0.25px #2e2e2e;">#1354 ~ Apartamento 03</span>
<span class="t" style="top:387.00px;font-size:12px;color:#222;left:357.50px;transform:scaleX(0.8704);transform-origin:0 50%;">IPTU</span>
<div class="abs" style="left:385px;top:387px;width:23.8px;height:11.8px;background:#8a8a8a;border-radius:2px"></div>
<span class="t" style="top:388.00px;font-size:9.4px;color:#fff;left:387.70px;transform:scaleX(1.0477);transform-origin:0 50%;">5/11</span>
<div class="abs" style="left:539.2px;top:374.3px;width:21.6px;height:21.4px;border-radius:3px;background:linear-gradient(180deg,#fb7a3c,#f8603d)"></div>
<span class="t" style="top:382.00px;font-size:7.6px;color:#fff;font-weight:700;left:542.25px;transform:scaleX(0.9412);transform-origin:0 50%;">inter</span>
<span class="t" style="top:377.00px;font-size:16.4px;color:#dc2b3a;left:619.50px;transform:scaleX(0.9702);transform-origin:0 50%;">-50,00</span>
<svg class="abs" style="left:675.6px;top:377.40000000000003px" width="17.4" height="16.8" viewBox="0 0 24 24"><path d="M20.2 8.2 A9.4 9.4 0 1 0 20.8 15.4" fill="none" stroke="#e8202e" stroke-width="2.7" stroke-linecap="round"/><path d="M11.6 5.6 V12.6 H17.4" fill="none" stroke="#e8202e" stroke-width="2.7" stroke-linecap="round" stroke-linejoin="round"/><path fill="#e8202e" d="M18 9.4 L23.6 12.2 L19.2 15.4 Z"/></svg>
<svg class="abs" style="left:248.6px;top:422.4px" width="18.4" height="16" viewBox="0 0 24 21"><circle cx="15.6" cy="6.4" r="5.4" fill="none" stroke="#2b9fe0" stroke-width="1.3"/><text x="15.6" y="9.2" font-family="Liberation Sans" font-size="8" text-anchor="middle" fill="#2b9fe0">$</text><path fill="#2b9fe0" d="M0.6 14.4 H3.4 V20.4 H0.6 Z M4.6 14.8 C7 13.4 9.4 13.6 11.4 14.6 H14.6 C15.8 14.8 15.8 16.4 14.6 16.6 H11 V17 H15.4 L20.4 14.2 C21.6 13.6 22.8 14.8 21.8 15.8 L16 19.8 C15.2 20.2 14.4 20.4 13.6 20.4 H4.6 Z"/></svg>
<span class="t" style="top:418.00px;font-size:9.4px;color:#3f3f3f;left:277.00px;transform:scaleX(1.0102);transform-origin:0 50%;">24/02/2026</span>
<span class="t" style="top:432.00px;font-size:11.5px;color:#222;left:277.00px;transform:scaleX(0.9781);transform-origin:0 50%;">24/02/2026</span>
<div class="abs" style="left:347px;top:410.5px;width:6px;height:38.8px;background:#28a745;border-radius:2px"></div>
<svg class="abs" style="left:357.5px;top:412.3px" width="8.4" height="8.4" viewBox="0 0 24 24"><rect x="1.4" y="2.4" width="21.2" height="15.6" rx="1.4" fill="none" stroke="#222" stroke-width="2.2"/><circle cx="13" cy="10" r="4" fill="none" stroke="#222" stroke-width="2"/><circle cx="13" cy="10" r="1.4" fill="#222"/><path fill="#222" d="M9.6 13.6 V22.6 L13 20.4 L16.4 22.6 V13.6 Z"/><path d="M4.4 7 H7.4 M4.4 11 H6.8" stroke="#222" stroke-width="1.6"/></svg>
<span class="t" style="top:413.00px;font-size:9.2px;color:#2e2e2e;left:368.30px;transform:scaleX(0.9632);transform-origin:0 50%;-webkit-text-stroke:0.25px #2e2e2e;">#156</span>
<svg class="abs" style="left:394.5px;top:412.5px" width="8.8" height="7.8" viewBox="0 0 24 22"><path fill="#1a1a1a" d="M12 1.6 L0.6 11.4 L2.2 13.2 L12 4.8 L21.8 13.2 L23.4 11.4 L19.6 8.1 V3 H16.6 V5.5 Z"/><path fill="#1a1a1a" d="M12 6.8 L3.8 13.8 V21 a1.2 1.2 0 0 0 1.2 1.2 H9.6 V16 h4.8 v6.2 H19 a1.2 1.2 0 0 0 1.2 -1.2 V13.8 Z"/></svg>
<span class="t" style="top:413.00px;font-size:9.2px;color:#2e2e2e;left:405.00px;transform:scaleX(0.9381);transform-origin:0 50%;-webkit-text-stroke:0.25px #2e2e2e;">#1262 ~ Apartamento Palmas</span>
<span class="t" style="top:423.00px;font-size:12px;color:#222;left:357.50px;transform:scaleX(0.9275);transform-origin:0 50%;">Repasse ~ Aluguel ~ (2/2) ~</span>
<span class="t" style="top:437.00px;font-size:12px;color:#222;left:357.50px;transform:scaleX(0.9040);transform-origin:0 50%;">Apartamento Palmas</span>
<div class="abs" style="left:539.2px;top:417.6px;width:21.6px;height:21.4px;border-radius:3px;background:#2a7ad8"></div>
<svg class="abs" style="left:541.2px;top:419.2px" width="17.6" height="18.4" viewBox="0 0 24 24"><path fill="#fff" d="M7.4 1.6 C9 2.6 10.4 2.6 12 1.8 C13.6 2.6 15 2.6 16.6 1.6 L14.4 6.6 H9.6 Z"/><path fill="#fff" d="M9.4 7.4 H14.6 C19.4 10 22 14.4 22 17.8 C22 21 19.6 22.6 16.6 22.6 H7.4 C4.4 22.6 2 21 2 17.8 C2 14.4 4.6 10 9.4 7.4 Z"/><text x="12" y="19.6" font-family="Liberation Sans" font-size="11" font-weight="700" text-anchor="middle" fill="#2a7ad8">$</text></svg>
<span class="t" style="top:421.00px;font-size:16.4px;color:#dc2b3a;left:596.70px;transform:scaleX(0.9803);transform-origin:0 50%;">-1.800,00</span>
<svg class="abs" style="left:675.6px;top:421.0px" width="17.4" height="16.8" viewBox="0 0 24 24"><path d="M20.2 8.2 A9.4 9.4 0 1 0 20.8 15.4" fill="none" stroke="#e8202e" stroke-width="2.7" stroke-linecap="round"/><path d="M11.6 5.6 V12.6 H17.4" fill="none" stroke="#e8202e" stroke-width="2.7" stroke-linecap="round" stroke-linejoin="round"/><path fill="#e8202e" d="M18 9.4 L23.6 12.2 L19.2 15.4 Z"/></svg>
<svg class="abs" style="left:248.3px;top:466.79999999999995px" width="17.7" height="13.6" viewBox="0 0 24 18.4"><path d="M22 9.2 H4 M10.6 1.8 L3 9.2 L10.6 16.6" fill="none" stroke="#dc2b3a" stroke-width="4.2" stroke-linecap="round" stroke-linejoin="miter"/></svg>
<span class="t" style="top:462.00px;font-size:9.4px;color:#3f3f3f;left:277.00px;transform:scaleX(1.0102);transform-origin:0 50%;">27/02/2026</span>
<span class="t" style="top:476.00px;font-size:11.5px;color:#222;left:277.00px;transform:scaleX(0.9781);transform-origin:0 50%;">27/02/2026</span>
<div class="abs" style="left:347px;top:460px;width:6px;height:27.0px;background:#1a22dd;border-radius:2px"></div>
<svg class="abs" style="left:357.5px;top:463px" width="8.8" height="7.8" viewBox="0 0 24 22"><path fill="#1a1a1a" d="M12 1.6 L0.6 11.4 L2.2 13.2 L12 4.8 L21.8 13.2 L23.4 11.4 L19.6 8.1 V3 H16.6 V5.5 Z"/><path fill="#1a1a1a" d="M12 6.8 L3.8 13.8 V21 a1.2 1.2 0 0 0 1.2 1.2 H9.6 V16 h4.8 v6.2 H19 a1.2 1.2 0 0 0 1.2 -1.2 V13.8 Z"/></svg>
<span class="t" style="top:463.00px;font-size:9.2px;color:#2e2e2e;left:368.30px;transform:scaleX(0.9150);transform-origin:0 50%;-webkit-text-stroke:0.25px #2e2e2e;">#1301 ~ FAZENDA BRASILÂNDIA</span>
<svg class="abs" style="left:502px;top:462.8px" width="7.6" height="7.8" viewBox="0 0 24 24"><circle cx="12" cy="7" r="5.4" fill="#222"/><path fill="#222" d="M1.6 23 v-4 c0 -3.6 3 -5.4 6 -5.4 h8.8 c3 0 6 1.8 6 5.4 v4 z"/></svg>
<span class="t" style="top:474.00px;font-size:12px;color:#222;left:357.50px;transform:scaleX(0.9267);transform-origin:0 50%;">teste boleto</span>
<svg class="abs" style="left:539.2px;top:462px" width="21.4" height="20.6" viewBox="0 0 21.4 20.6"><g fill="none" stroke="#111" stroke-width="2.5" stroke-linecap="round" stroke-linejoin="round"><path d="M1.4 1.1 H15.4 C19.2 1.1 20.5 3.4 20.3 5.5 C20.1 8.2 17.8 10.3 14.6 10.3 H11.2"/><path d="M1.4 1.1 L19.9 19.7"/><path d="M0.9 9 L11.8 20"/><path d="M0.9 17.1 L3.7 20"/></g></svg>
<span class="t" style="top:465.00px;font-size:16.4px;color:#dc2b3a;left:609.70px;transform:scaleX(0.9875);transform-origin:0 50%;">-120,00</span>
<svg class="abs" style="left:675.6px;top:464.8px" width="17.4" height="16.8" viewBox="0 0 24 24"><path d="M20.2 8.2 A9.4 9.4 0 1 0 20.8 15.4" fill="none" stroke="#e8202e" stroke-width="2.7" stroke-linecap="round"/><path d="M11.6 5.6 V12.6 H17.4" fill="none" stroke="#e8202e" stroke-width="2.7" stroke-linecap="round" stroke-linejoin="round"/><path fill="#e8202e" d="M18 9.4 L23.6 12.2 L19.2 15.4 Z"/></svg>
<svg class="abs" style="left:248.3px;top:504.59999999999997px" width="17.7" height="13.6" viewBox="0 0 24 18.4"><path d="M22 9.2 H4 M10.6 1.8 L3 9.2 L10.6 16.6" fill="none" stroke="#dc2b3a" stroke-width="4.2" stroke-linecap="round" stroke-linejoin="miter"/></svg>
<span class="t" style="top:500.00px;font-size:9.4px;color:#3f3f3f;left:277.00px;transform:scaleX(1.0102);transform-origin:0 50%;">02/03/2026</span>
<span class="t" style="top:514.00px;font-size:11.5px;color:#222;left:277.00px;transform:scaleX(0.9781);transform-origin:0 50%;">05/03/2026</span>
<div class="abs" style="left:347px;top:497.5px;width:6px;height:27.0px;background:#1a22dd;border-radius:2px"></div>
<span class="t" style="top:504.00px;font-size:12px;color:#222;left:357.50px;transform:scaleX(0.9183);transform-origin:0 50%;">combustível</span>
<div class="abs" style="left:539.2px;top:498.8px;width:21.6px;height:22px;border-radius:3px;background:#f4e13c"></div>
<svg class="abs" style="left:540.6px;top:500.6px" width="18.8" height="18.8" viewBox="0 0 24 24"><g fill="none" stroke="#1d57b8" stroke-width="2.7" stroke-linejoin="miter"><path d="M3.6 10.8 L10.4 4.6 L16 9.6 L9.6 15.4"/><path d="M20.4 13.2 L13.6 19.4 L8 14.4 L14.4 8.6"/></g><path d="M1.6 21.6 L22.4 2.6" stroke="#1d57b8" stroke-width="0.9"/></svg>
<span class="t" style="top:502.00px;font-size:16.4px;color:#dc2b3a;left:609.70px;transform:scaleX(0.9875);transform-origin:0 50%;">-300,00</span>
<svg class="abs" style="left:675.6px;top:503.0px" width="17.4" height="16.8" viewBox="0 0 24 24"><path d="M20.2 8.2 A9.4 9.4 0 1 0 20.8 15.4" fill="none" stroke="#e8202e" stroke-width="2.7" stroke-linecap="round"/><path d="M11.6 5.6 V12.6 H17.4" fill="none" stroke="#e8202e" stroke-width="2.7" stroke-linecap="round" stroke-linejoin="round"/><path fill="#e8202e" d="M18 9.4 L23.6 12.2 L19.2 15.4 Z"/></svg>
<span class="t" style="top:536.00px;font-size:11.5px;color:#dc2b3a;left:582.50px;">Total R$</span>
<span class="t" style="top:534.00px;font-size:13px;color:#dc2b3a;font-weight:700;left:627.90px;transform:scaleX(1.0157);transform-origin:0 50%;">-7.125,00</span>
<div class="card" style="left:718px;top:226px;width:469px;height:329px"></div>
<svg class="abs" style="left:724.8px;top:235.2px" width="17.6" height="13.4" viewBox="0 0 24 18.4"><path d="M1 9.2 H20 M13.4 1.8 L21 9.2 L13.4 16.6" fill="none" stroke="#1e9b14" stroke-width="4.2" stroke-linecap="butt" stroke-linejoin="miter"/></svg>
<span class="t" style="top:234.00px;font-size:16px;color:#1e9b14;left:747.00px;transform:scaleX(1.0234);transform-origin:0 50%;">Contas a <b>Receber</b> em <b>7 dias</b></span>
<span class="t" style="top:259.00px;font-size:11px;color:#222;left:725.00px;transform:scaleX(0.9539);transform-origin:0 50%;">Resumo das cobranças do dia atual até os próximos 7 dias</span>
<div class="abs" style="left:1067.7px;top:246.8px;width:88px;height:11.2px;background:#2f9a1e;border-radius:3px"></div>
<svg class="abs" style="left:1071.2px;top:248.6px" width="7.6" height="7.6" viewBox="0 0 24 24"><circle cx="12" cy="12" r="11" fill="#fff"/><path d="M12 5.6 V18.4 M5.6 12 H18.4" stroke="#2f9a1e" stroke-width="4"/></svg>
<span class="t" style="top:249.00px;font-size:9.2px;color:#fff;left:1083.40px;transform:scaleX(0.9512);transform-origin:0 50%;">Adicionar Receita</span>
<svg class="abs" style="left:1167px;top:245.2px" width="13.2" height="13.2" viewBox="0 0 24 24"><g fill="none" stroke="#1a1a1a" stroke-width="2.6" stroke-linecap="round"><path d="M3.4 10.4 A8.8 8.8 0 0 1 19.6 7.2"/><path d="M20.6 13.6 A8.8 8.8 0 0 1 4.4 16.8"/></g><path fill="#1a1a1a" d="M21.8 2.4 V9.4 H14.8 Z"/><path fill="#1a1a1a" d="M2.2 21.6 V14.6 H9.2 Z"/></svg>
<div class="abs" style="left:725px;top:278px;width:455px;height:1px;background:repeating-linear-gradient(90deg,#ececec 0 2px,transparent 2px 3px)"></div>
<svg class="abs" style="left:732px;top:298.4px" width="14" height="9" viewBox="0 0 14 9"><path fill="#2a2a2a" d="M0 1.4 H10 V0 L14 2.2 L10 4.4 V3 H0 Z"/><path fill="#2a2a2a" d="M14 6 H4 V4.6 L0 6.8 L4 9 V7.6 H14 Z"/></svg>
<svg class="abs" style="left:759.2px;top:296px" width="13.2" height="13.2" viewBox="0 0 24 25"><path fill="#3a3a3a" fill-rule="evenodd" d="M2 5.2 h20 v17 a1.6 1.6 0 0 1 -1.6 1.6 h-16.8 a1.6 1.6 0 0 1 -1.6 -1.6 z M3.6 9.4 v3.4 h3.4 v-3.4 z M8.0 9.4 v3.4 h3.4 v-3.4 z M12.4 9.4 v3.4 h3.4 v-3.4 z M16.8 9.4 v3.4 h3.4 v-3.4 z M3.6 14.0 v3.4 h3.4 v-3.4 z M8.0 14.0 v3.4 h3.4 v-3.4 z M12.4 14.0 v3.4 h3.4 v-3.4 z M16.8 14.0 v3.4 h3.4 v-3.4 z M3.6 18.6 v3.4 h3.4 v-3.4 z M8.0 18.6 v3.4 h3.4 v-3.4 z M12.4 18.6 v3.4 h3.4 v-3.4 z M16.8 18.6 v3.4 h3.4 v-3.4 z "/><rect x="6" y="1" width="3" height="6.4" rx="1.2" fill="#3a3a3a"/><rect x="15" y="1" width="3" height="6.4" rx="1.2" fill="#3a3a3a"/></svg>
<span class="t" style="top:297.00px;font-size:11px;color:#505050;left:775.80px;transform:scaleX(1.0194);transform-origin:0 50%;-webkit-text-stroke:0.25px #505050;">Data</span>
<span class="t" style="top:294.00px;font-size:18px;color:#333;font-family:'Liberation Serif',serif;left:829.30px;transform:scaleX(0.9692);transform-origin:0 50%;">H</span>
<span class="t" style="top:297.00px;font-size:11px;color:#505050;left:845.80px;transform:scaleX(1.0367);transform-origin:0 50%;-webkit-text-stroke:0.25px #505050;">Descrição</span>
<svg class="abs" style="left:1026.7px;top:296.5px" width="11.6" height="12.5" viewBox="0 0 24 24"><circle cx="8.6" cy="4.8" r="3.7" fill="#fff" stroke="#2a2a2a" stroke-width="1.8"/><path d="M8.6 2.8 V6.8" stroke="#2a2a2a" stroke-width="1.2"/><path fill="#2a2a2a" d="M3.6 13.6 C3.6 10.8 6.6 9.6 10.6 9.6 H15 L17.4 7.4 H19.4 V10.6 C20.8 11.4 21.4 12.6 21.8 13.6 H23.6 V18 H21.6 C21 19 20.2 19.6 19.6 20 V23.4 H15.8 V21.2 H11 V23.4 H7.2 V20 C4.8 18.6 3.6 16.4 3.6 13.6 Z"/><circle cx="18.2" cy="13.2" r="1" fill="#fff"/><path d="M4 13.8 C1.8 13.8 1.2 11.2 2.8 10.6" fill="none" stroke="#2a2a2a" stroke-width="1.3"/></svg>
<span class="t" style="top:296.00px;font-size:14.5px;color:#222;font-weight:700;left:1107.40px;transform:scaleX(0.9161);transform-origin:0 50%;">$</span>
<span class="t" style="top:297.00px;font-size:11px;color:#505050;left:1121.50px;transform:scaleX(1.0492);transform-origin:0 50%;-webkit-text-stroke:0.25px #505050;">Valor</span>
<svg class="abs" style="left:1157.7px;top:297.8px" width="13.6" height="10.6" viewBox="0 0 24 20"><path d="M2.4 10.2 L8.8 16.6 L21.6 3.4" fill="none" stroke="#2a2a2a" stroke-width="4.8"/></svg>
<div class="abs" style="left:725px;top:317px;width:455px;height:1px;background:#b9c0c8"></div>
<div class="abs" style="left:725px;top:319px;width:455px;height:48.2px;background:#f9f9fa"></div>
<div class="abs" style="left:725px;top:367px;width:455px;height:1px;background:#efeff1"></div>
<div class="abs" style="left:725px;top:368.6px;width:455px;height:49.0px;background:#f9f9fa"></div>
<div class="abs" style="left:725px;top:418px;width:455px;height:1px;background:#efeff1"></div>
<div class="abs" style="left:725px;top:419.4px;width:455px;height:48.8px;background:#f9f9fa"></div>
<div class="abs" style="left:725px;top:468px;width:455px;height:1px;background:#efeff1"></div>
<svg class="abs" style="left:730.6px;top:335.4px" width="18.2" height="14" viewBox="0 0 19.3 14"><rect x="0" y="0" width="2.6" height="14" fill="#1a1a1a"/><rect x="3.9" y="0" width="1.3" height="14" fill="#1a1a1a"/><rect x="6.5" y="0" width="2.6" height="14" fill="#1a1a1a"/><rect x="10.4" y="0" width="2.6" height="14" fill="#1a1a1a"/><rect x="14.3" y="0" width="1.3" height="14" fill="#1a1a1a"/><rect x="16.9" y="0" width="2.4" height="14" fill="#1a1a1a"/></svg>
<span class="t" style="top:332.00px;font-size:9.4px;color:#3f3f3f;left:759.60px;">25/03/2026</span>
<span class="t" style="top:345.00px;font-size:11.5px;color:#222;left:759.60px;transform:scaleX(0.9781);transform-origin:0 50%;">25/03/2026</span>
<div class="abs" style="left:830px;top:323.3px;width:6px;height:39.2px;background:#1a22dd;border-radius:2px"></div>
<svg class="abs" style="left:840px;top:324.8px" width="8.4" height="8.4" viewBox="0 0 24 24"><rect x="1.4" y="2.4" width="21.2" height="15.6" rx="1.4" fill="none" stroke="#222" stroke-width="2.2"/><circle cx="13" cy="10" r="4" fill="none" stroke="#222" stroke-width="2"/><circle cx="13" cy="10" r="1.4" fill="#222"/><path fill="#222" d="M9.6 13.6 V22.6 L13 20.4 L16.4 22.6 V13.6 Z"/><path d="M4.4 7 H7.4 M4.4 11 H6.8" stroke="#222" stroke-width="1.6"/></svg>
<span class="t" style="top:325.00px;font-size:9.2px;color:#2e2e2e;left:850.80px;transform:scaleX(0.9534);transform-origin:0 50%;-webkit-text-stroke:0.25px #2e2e2e;">#170</span>
<svg class="abs" style="left:877px;top:325px" width="8.8" height="7.8" viewBox="0 0 24 22"><path fill="#1a1a1a" d="M12 1.6 L0.6 11.4 L2.2 13.2 L12 4.8 L21.8 13.2 L23.4 11.4 L19.6 8.1 V3 H16.6 V5.5 Z"/><path fill="#1a1a1a" d="M12 6.8 L3.8 13.8 V21 a1.2 1.2 0 0 0 1.2 1.2 H9.6 V16 h4.8 v6.2 H19 a1.2 1.2 0 0 0 1.2 -1.2 V13.8 Z"/></svg>
<span class="t" style="top:325.00px;font-size:9.2px;color:#2e2e2e;left:887.50px;transform:scaleX(0.9238);transform-origin:0 50%;-webkit-text-stroke:0.25px #2e2e2e;">#1235 ~ Casa Simples AAA</span>
<svg class="abs" style="left:997px;top:324.8px" width="7.6" height="7.8" viewBox="0 0 24 24"><circle cx="12" cy="7" r="5.4" fill="#222"/><path fill="#222" d="M1.6 23 v-4 c0 -3.6 3 -5.4 6 -5.4 h8.8 c3 0 6 1.8 6 5.4 v4 z"/></svg>
<div class="abs" style="left:840px;top:336.3px;width:25.6px;height:13px;background:#e83fcd;border-radius:2px"></div>
<span class="t" style="top:338.00px;font-size:9.4px;color:#fff;left:843.05px;transform:scaleX(0.9348);transform-origin:0 50%;">6560</span>
<div class="abs" style="left:869px;top:336.3px;width:42.2px;height:13px;background:#7ecbe9;border-radius:2px"></div>
<span class="t" style="top:339.00px;font-size:9.2px;color:#eaf7fc;left:871.85px;transform:scaleX(0.8930);transform-origin:0 50%;">Não Pago</span>
<span class="t" style="top:336.00px;font-size:12px;color:#222;left:914.50px;transform:scaleX(0.9141);transform-origin:0 50%;">Venda contrato</span>
<span class="t" style="top:349.00px;font-size:12px;color:#222;left:914.50px;transform:scaleX(0.9362);transform-origin:0 50%;">#170</span>
<div class="abs" style="left:992.6px;top:336.3px;width:18.6px;height:12.8px;background:#8a8a8a;border-radius:2px"></div>
<span class="t" style="top:338.00px;font-size:9.4px;color:#fff;left:995.10px;transform:scaleX(1.0424);transform-origin:0 50%;">1/1</span>
<svg class="abs" style="left:1021.8px;top:331px" width="21.4" height="20.6" viewBox="0 0 21.4 20.6"><g fill="none" stroke="#111" stroke-width="2.5" stroke-linecap="round" stroke-linejoin="round"><path d="M1.4 1.1 H15.4 C19.2 1.1 20.5 3.4 20.3 5.5 C20.1 8.2 17.8 10.3 14.6 10.3 H11.2"/><path d="M1.4 1.1 L19.9 19.7"/><path d="M0.9 9 L11.8 20"/><path d="M0.9 17.1 L3.7 20"/></g></svg>
<span class="t" style="top:334.00px;font-size:16.4px;color:#1f9a12;left:1065.20px;transform:scaleX(0.9915);transform-origin:0 50%;">+24.000,00</span>
<svg class="abs" style="left:1158px;top:334.6px" width="17.2" height="16.8" viewBox="0 0 24 24"><path d="M20.2 8.2 A9.4 9.4 0 1 0 20.8 15.4" fill="none" stroke="#35a4df" stroke-width="2.5" stroke-linecap="round"/><path d="M11.6 5.6 V12.6 H17.4" fill="none" stroke="#35a4df" stroke-width="2.5" stroke-linecap="round" stroke-linejoin="round"/><path fill="#35a4df" d="M18 9.4 L23.6 12.2 L19.2 15.4 Z"/></svg>
<svg class="abs" style="left:730.6px;top:386px" width="18.2" height="14" viewBox="0 0 19.3 14"><rect x="0" y="0" width="2.6" height="14" fill="#1a1a1a"/><rect x="3.9" y="0" width="1.3" height="14" fill="#1a1a1a"/><rect x="6.5" y="0" width="2.6" height="14" fill="#1a1a1a"/><rect x="10.4" y="0" width="2.6" height="14" fill="#1a1a1a"/><rect x="14.3" y="0" width="1.3" height="14" fill="#1a1a1a"/><rect x="16.9" y="0" width="2.4" height="14" fill="#1a1a1a"/></svg>
<span class="t" style="top:383.00px;font-size:9.4px;color:#3f3f3f;left:759.60px;">31/07/2025</span>
<span class="t" style="top:395.00px;font-size:11.5px;color:#222;left:759.60px;transform:scaleX(0.9781);transform-origin:0 50%;">28/03/2026</span>
<div class="abs" style="left:830px;top:373.5px;width:6px;height:40.2px;background:#1a22dd;border-radius:2px"></div>
<svg class="abs" style="left:840px;top:375.6px" width="8.4" height="8.4" viewBox="0 0 24 24"><rect x="1.4" y="2.4" width="21.2" height="15.6" rx="1.4" fill="none" stroke="#222" stroke-width="2.2"/><circle cx="13" cy="10" r="4" fill="none" stroke="#222" stroke-width="2"/><circle cx="13" cy="10" r="1.4" fill="#222"/><path fill="#222" d="M9.6 13.6 V22.6 L13 20.4 L16.4 22.6 V13.6 Z"/><path d="M4.4 7 H7.4 M4.4 11 H6.8" stroke="#222" stroke-width="1.6"/></svg>
<span class="t" style="top:376.00px;font-size:9.2px;color:#2e2e2e;left:850.80px;transform:scaleX(0.9534);transform-origin:0 50%;-webkit-text-stroke:0.25px #2e2e2e;">#101</span>
<svg class="abs" style="left:877px;top:375.8px" width="8.8" height="7.8" viewBox="0 0 24 22"><path fill="#1a1a1a" d="M12 1.6 L0.6 11.4 L2.2 13.2 L12 4.8 L21.8 13.2 L23.4 11.4 L19.6 8.1 V3 H16.6 V5.5 Z"/><path fill="#1a1a1a" d="M12 6.8 L3.8 13.8 V21 a1.2 1.2 0 0 0 1.2 1.2 H9.6 V16 h4.8 v6.2 H19 a1.2 1.2 0 0 0 1.2 -1.2 V13.8 Z"/></svg>
<span class="t" style="top:376.00px;font-size:9.2px;color:#2e2e2e;left:887.50px;transform:scaleX(0.9003);transform-origin:0 50%;-webkit-text-stroke:0.25px #2e2e2e;">#1313 ~ Casa de Praia Cynthia</span>
<div class="abs" style="left:840px;top:386.6px;width:25.6px;height:13px;background:#e83fcd;border-radius:2px"></div>
<span class="t" style="top:388.00px;font-size:9.4px;color:#fff;left:843.05px;transform:scaleX(0.9348);transform-origin:0 50%;">6106</span>
<div class="abs" style="left:869px;top:386.6px;width:42.2px;height:13px;background:#7ecbe9;border-radius:2px"></div>
<span class="t" style="top:389.00px;font-size:9.2px;color:#eaf7fc;left:871.85px;transform:scaleX(0.8930);transform-origin:0 50%;">Não Pago</span>
<span class="t" style="top:387.00px;font-size:12px;color:#222;left:914.80px;transform:scaleX(0.8870);transform-origin:0 50%;">Venda</span>
<span class="t" style="top:400.00px;font-size:12px;color:#222;left:914.80px;transform:scaleX(0.9156);transform-origin:0 50%;">contrato #101</span>
<div class="abs" style="left:987.6px;top:386.6px;width:23.6px;height:13px;background:#8a8a8a;border-radius:2px"></div>
<span class="t" style="top:388.00px;font-size:9.4px;color:#fff;left:990.20px;transform:scaleX(1.0082);transform-origin:0 50%;">9/10</span>
<svg class="abs" style="left:1021.8px;top:381.5px" width="21.4" height="20.6" viewBox="0 0 21.4 20.6"><g fill="none" stroke="#111" stroke-width="2.5" stroke-linecap="round" stroke-linejoin="round"><path d="M1.4 1.1 H15.4 C19.2 1.1 20.5 3.4 20.3 5.5 C20.1 8.2 17.8 10.3 14.6 10.3 H11.2"/><path d="M1.4 1.1 L19.9 19.7"/><path d="M0.9 9 L11.8 20"/><path d="M0.9 17.1 L3.7 20"/></g></svg>
<span class="t" style="top:385.00px;font-size:16.4px;color:#1f9a12;left:1065.20px;transform:scaleX(0.9915);transform-origin:0 50%;">+30.000,00</span>
<svg class="abs" style="left:1158px;top:385.0px" width="17.2" height="16.8" viewBox="0 0 24 24"><path d="M20.2 8.2 A9.4 9.4 0 1 0 20.8 15.4" fill="none" stroke="#35a4df" stroke-width="2.5" stroke-linecap="round"/><path d="M11.6 5.6 V12.6 H17.4" fill="none" stroke="#35a4df" stroke-width="2.5" stroke-linecap="round" stroke-linejoin="round"/><path fill="#35a4df" d="M18 9.4 L23.6 12.2 L19.2 15.4 Z"/></svg>
<svg class="abs" style="left:730.6px;top:436.6px" width="18.2" height="14" viewBox="0 0 19.3 14"><rect x="0" y="0" width="2.6" height="14" fill="#1a1a1a"/><rect x="3.9" y="0" width="1.3" height="14" fill="#1a1a1a"/><rect x="6.5" y="0" width="2.6" height="14" fill="#1a1a1a"/><rect x="10.4" y="0" width="2.6" height="14" fill="#1a1a1a"/><rect x="14.3" y="0" width="1.3" height="14" fill="#1a1a1a"/><rect x="16.9" y="0" width="2.4" height="14" fill="#1a1a1a"/></svg>
<span class="t" style="top:433.00px;font-size:9.4px;color:#3f3f3f;left:759.60px;">17/03/2026</span>
<span class="t" style="top:446.00px;font-size:11.5px;color:#222;left:759.60px;transform:scaleX(0.9781);transform-origin:0 50%;">30/03/2026</span>
<div class="abs" style="left:830px;top:424.4px;width:6px;height:39.4px;background:#1a22dd;border-radius:2px"></div>
<svg class="abs" style="left:840px;top:426.2px" width="8.4" height="8.4" viewBox="0 0 24 24"><rect x="1.4" y="2.4" width="21.2" height="15.6" rx="1.4" fill="none" stroke="#222" stroke-width="2.2"/><circle cx="13" cy="10" r="4" fill="none" stroke="#222" stroke-width="2"/><circle cx="13" cy="10" r="1.4" fill="#222"/><path fill="#222" d="M9.6 13.6 V22.6 L13 20.4 L16.4 22.6 V13.6 Z"/><path d="M4.4 7 H7.4 M4.4 11 H6.8" stroke="#222" stroke-width="1.6"/></svg>
<span class="t" style="top:426.00px;font-size:9.2px;color:#2e2e2e;left:850.80px;transform:scaleX(0.9255);transform-origin:0 50%;-webkit-text-stroke:0.25px #2e2e2e;">#95</span>
<svg class="abs" style="left:871.6px;top:426.4px" width="8.8" height="7.8" viewBox="0 0 24 22"><path fill="#1a1a1a" d="M12 1.6 L0.6 11.4 L2.2 13.2 L12 4.8 L21.8 13.2 L23.4 11.4 L19.6 8.1 V3 H16.6 V5.5 Z"/><path fill="#1a1a1a" d="M12 6.8 L3.8 13.8 V21 a1.2 1.2 0 0 0 1.2 1.2 H9.6 V16 h4.8 v6.2 H19 a1.2 1.2 0 0 0 1.2 -1.2 V13.8 Z"/></svg>
<span class="t" style="top:426.00px;font-size:9.2px;color:#2e2e2e;left:882.00px;transform:scaleX(0.9418);transform-origin:0 50%;-webkit-text-stroke:0.25px #2e2e2e;">#1304 ~ Apartamento Kaue</span>
<div class="abs" style="left:840px;top:437.2px;width:25.6px;height:13px;background:#e83fcd;border-radius:2px"></div>
<span class="t" style="top:439.00px;font-size:9.4px;color:#fff;left:843.05px;transform:scaleX(0.9348);transform-origin:0 50%;">5963</span>
<div class="abs" style="left:869px;top:437.2px;width:42.2px;height:13px;background:#7ecbe9;border-radius:2px"></div>
<span class="t" style="top:440.00px;font-size:9.2px;color:#eaf7fc;left:871.85px;transform:scaleX(0.8930);transform-origin:0 50%;">Não Pago</span>
<span class="t" style="top:438.00px;font-size:12px;color:#222;left:914.80px;transform:scaleX(0.8868);transform-origin:0 50%;">Aluguel</span>
<span class="t" style="top:451.00px;font-size:12px;color:#222;left:914.80px;transform:scaleX(0.9350);transform-origin:0 50%;">(17/03/2026</span>
<div class="abs" style="left:982.4px;top:437.2px;width:28.8px;height:13px;background:#8a8a8a;border-radius:2px"></div>
<span class="t" style="top:439.00px;font-size:9.4px;color:#fff;left:985.00px;transform:scaleX(1.0367);transform-origin:0 50%;">11/30</span>
<svg class="abs" style="left:1021.8px;top:432px" width="21.4" height="20.6" viewBox="0 0 21.4 20.6"><g fill="none" stroke="#111" stroke-width="2.5" stroke-linecap="round" stroke-linejoin="round"><path d="M1.4 1.1 H15.4 C19.2 1.1 20.5 3.4 20.3 5.5 C20.1 8.2 17.8 10.3 14.6 10.3 H11.2"/><path d="M1.4 1.1 L19.9 19.7"/><path d="M0.9 9 L11.8 20"/><path d="M0.9 17.1 L3.7 20"/></g></svg>
<span class="t" style="top:436.00px;font-size:16.4px;color:#1f9a12;left:1074.20px;transform:scaleX(1.0087);transform-origin:0 50%;">+2.117,20</span>
<svg class="abs" style="left:1158px;top:435.6px" width="17.2" height="16.8" viewBox="0 0 24 24"><path d="M20.2 8.2 A9.4 9.4 0 1 0 20.8 15.4" fill="none" stroke="#35a4df" stroke-width="2.5" stroke-linecap="round"/><path d="M11.6 5.6 V12.6 H17.4" fill="none" stroke="#35a4df" stroke-width="2.5" stroke-linecap="round" stroke-linejoin="round"/><path fill="#35a4df" d="M18 9.4 L23.6 12.2 L19.2 15.4 Z"/></svg>
<svg class="abs" style="left:922.6px;top:486.6px" width="10.6" height="10.6" viewBox="0 0 24 24"><g fill="none" stroke="#222" stroke-width="2.6" stroke-linecap="round"><path d="M10.2 13.8 a4.2 4.2 0 0 0 6 0 l3.6 -3.6 a4.24 4.24 0 0 0 -6 -6 l-1.8 1.8"/><path d="M13.8 10.2 a4.2 4.2 0 0 0 -6 0 l-3.6 3.6 a4.24 4.24 0 0 0 6 6 l1.8 -1.8"/></g></svg>
<span class="t" style="top:487.00px;font-size:12px;color:#222;left:936.00px;transform:scaleX(0.8729);transform-origin:0 50%;">Ver Todos</span>
<span class="t" style="top:508.00px;font-size:11.5px;color:#1f9a12;left:1060.00px;">Total R$</span>
<span class="t" style="top:505.00px;font-size:14px;color:#1f9a12;font-weight:700;left:1107.00px;transform:scaleX(0.9640);transform-origin:0 50%;">56.117,20</span>
<div class="card" style="left:236px;top:569px;width:307px;height:230px"></div>
<svg class="abs" style="left:242.6px;top:575.8px" width="17.2" height="17" viewBox="0 0 24 24"><path d="M7.4 18.4 H2.4 V2.4 H21.6 V18.4 H18.6" fill="none" stroke="#1c1c1c" stroke-width="2"/><circle cx="13" cy="12" r="4.4" fill="none" stroke="#1c1c1c" stroke-width="2"/><circle cx="13" cy="12" r="1.5" fill="#1c1c1c"/><path fill="#1c1c1c" d="M9.4 15.4 L8 22.8 L11.4 21.2 L13 23.6 L14.6 21.2 L18 22.8 L16.6 15.4 C14.6 17.4 11.4 17.4 9.4 15.4 Z"/><path d="M5.4 6.4 H10" stroke="#1c1c1c" stroke-width="1.6"/></svg>
<span class="t" style="top:577.00px;font-size:16.8px;color:#222;left:264.20px;transform:scaleX(1.0278);transform-origin:0 50%;">Contratos por Status</span>
<span class="t" style="top:601.00px;font-size:11px;color:#222;left:243.00px;transform:scaleX(0.9490);transform-origin:0 50%;">Listagem do Total de Contratos por Status no período</span>
<svg class="abs" style="left:523px;top:587.2px" width="13.2" height="13.2" viewBox="0 0 24 24"><g fill="none" stroke="#1a1a1a" stroke-width="2.6" stroke-linecap="round"><path d="M3.4 10.4 A8.8 8.8 0 0 1 19.6 7.2"/><path d="M20.6 13.6 A8.8 8.8 0 0 1 4.4 16.8"/></g><path fill="#1a1a1a" d="M21.8 2.4 V9.4 H14.8 Z"/><path fill="#1a1a1a" d="M2.2 21.6 V14.6 H9.2 Z"/></svg>
<div class="abs" style="left:243px;top:620px;width:294px;height:1px;background:repeating-linear-gradient(90deg,#ececec 0 2px,transparent 2px 3px)"></div>
<svg class="abs" style="left:267px;top:639.8px" width="21" height="21" viewBox="0 0 24 24"><circle cx="12" cy="12" r="5" fill="none" stroke="#f5a623" stroke-width="1.5"/><path d="M19.60 12.00 L23.00 12.00" stroke="#f5a623" stroke-width="1.5" stroke-linecap="round"/><path d="M17.37 17.37 L19.78 19.78" stroke="#f5a623" stroke-width="1.5" stroke-linecap="round"/><path d="M12.00 19.60 L12.00 23.00" stroke="#f5a623" stroke-width="1.5" stroke-linecap="round"/><path d="M6.63 17.37 L4.22 19.78" stroke="#f5a623" stroke-width="1.5" stroke-linecap="round"/><path d="M4.40 12.00 L1.00 12.00" stroke="#f5a623" stroke-width="1.5" stroke-linecap="round"/><path d="M6.63 6.63 L4.22 4.22" stroke="#f5a623" stroke-width="1.5" stroke-linecap="round"/><path d="M12.00 4.40 L12.00 1.00" stroke="#f5a623" stroke-width="1.5" stroke-linecap="round"/><path d="M17.37 6.63 L19.78 4.22" stroke="#f5a623" stroke-width="1.5" stroke-linecap="round"/></svg>
<span class="t" style="top:640.00px;font-size:22px;color:#222;left:293.50px;transform:scaleX(0.9430);transform-origin:0 50%;">Contrato de Temporada</span>
<div class="abs" style="left:246.4px;top:671px;width:287px;height:1px;background:repeating-linear-gradient(90deg,#ededed 0 2px,transparent 2px 3px)"></div>
<span class="t" style="top:675.00px;font-size:27px;color:#444;left:304.60px;transform:scaleX(0.7500);transform-origin:0 50%;-webkit-text-stroke:0.8px #444;">1</span>
<div class="abs" style="left:323.9px;top:681.3px;width:82.1px;height:23.2px;background:#3ea6f3;border-radius:2px"></div>
<span class="t" style="top:688.00px;font-size:11.5px;color:#fff;font-style:italic;left:329.00px;transform:scaleX(0.9386);transform-origin:0 50%;">Em Andamento</span>
<div class="abs" style="left:246.4px;top:711px;width:287px;height:1px;background:repeating-linear-gradient(90deg,#ededed 0 2px,transparent 2px 3px)"></div>
<span class="t" style="top:715.00px;font-size:27px;color:#444;left:304.50px;transform:scaleX(0.9314);transform-origin:0 50%;-webkit-text-stroke:0.8px #444;">2</span>
<div class="abs" style="left:323.9px;top:721.5px;width:54.7px;height:23.3px;background:#b1b1b1;border-radius:2px"></div>
<span class="t" style="top:728.00px;font-size:11.5px;color:#fff;font-style:italic;left:329.00px;transform:scaleX(0.9239);transform-origin:0 50%;">Pendente</span>
<div class="abs" style="left:246.4px;top:751px;width:287px;height:1px;background:repeating-linear-gradient(90deg,#ededed 0 2px,transparent 2px 3px)"></div>
<span class="t" style="top:755.00px;font-size:27px;color:#444;left:304.50px;transform:scaleX(0.9314);transform-origin:0 50%;-webkit-text-stroke:0.8px #444;">2</span>
<div class="abs" style="left:323.9px;top:761.8px;width:57.2px;height:23.3px;background:#1f5c9c;border-radius:2px"></div>
<span class="t" style="top:768.00px;font-size:11.5px;color:#fff;font-style:italic;left:329.00px;transform:scaleX(0.8966);transform-origin:0 50%;">Finalizado</span>
<div class="card" style="left:556.6px;top:569px;width:309px;height:230px"></div>
<svg class="abs" style="left:564.2px;top:576.2px" width="17.4" height="16.2" viewBox="0 0 28 27"><circle cx="3.8" cy="2.3" r="2.2" fill="#1c1c1c"/><path fill="#1c1c1c" d="M0.2 5.8 L3.8 7.8 L7.4 5.8 V12.4 H0.2 Z"/><circle cx="23.6" cy="2.3" r="2.2" fill="#1c1c1c"/><path fill="#1c1c1c" d="M20 5.8 L23.6 7.8 L27.2 5.8 V12.4 H20 Z"/><circle cx="13.4" cy="15.9" r="11.6" fill="#fff"/><circle cx="13.4" cy="15.9" r="9.4" fill="none" stroke="#1c1c1c" stroke-width="3.0"/><path d="M21.4 22.8 L26.4 26" stroke="#1c1c1c" stroke-width="3.0" stroke-linecap="round"/><circle cx="13.4" cy="11.9" r="1.8" fill="#1c1c1c"/><path fill="#1c1c1c" d="M9.2 15.2 H12 L13.4 17 L14.8 15.2 H17.6 V20.8 H9.2 Z"/></svg>
<span class="t" style="top:577.00px;font-size:16.8px;color:#222;left:586.10px;transform:scaleX(0.9883);transform-origin:0 50%;">Leads</span>
<span class="t" style="top:601.00px;font-size:11px;color:#222;left:564.20px;transform:scaleX(0.9376);transform-origin:0 50%;">Informações sobre Leads</span>
<svg class="abs" style="left:845.6px;top:587.2px" width="13.2" height="13.2" viewBox="0 0 24 24"><g fill="none" stroke="#1a1a1a" stroke-width="2.6" stroke-linecap="round"><path d="M3.4 10.4 A8.8 8.8 0 0 1 19.6 7.2"/><path d="M20.6 13.6 A8.8 8.8 0 0 1 4.4 16.8"/></g><path fill="#1a1a1a" d="M21.8 2.4 V9.4 H14.8 Z"/><path fill="#1a1a1a" d="M2.2 21.6 V14.6 H9.2 Z"/></svg>
<div class="abs" style="left:564.2px;top:620px;width:294.6px;height:1px;background:repeating-linear-gradient(90deg,#ececec 0 2px,transparent 2px 3px)"></div>
<div class="abs" style="left:564.2px;top:626.2px;width:44.2px;height:22.2px;background:#6a54ae;border-radius:3px"></div>
<span class="t" style="top:632.00px;font-size:12.6px;color:#fff;left:573.80px;transform:scaleX(0.9612);transform-origin:0 50%;">Hoje</span>
<div class="abs" style="left:612.4px;top:626.2px;width:63.5px;height:22.2px;background:#fff;border:1px solid #dcdcdc;border-radius:3px"></div>
<span class="t" style="top:632.00px;font-size:12.6px;color:#585858;left:621.70px;transform:scaleX(0.9505);transform-origin:0 50%;">Semana</span>
<div class="abs" style="left:680px;top:626.2px;width:61.2px;height:22.2px;background:#fff;border:1px solid #dcdcdc;border-radius:3px"></div>
<span class="t" style="top:632.00px;font-size:12.6px;color:#585858;left:689.00px;transform:scaleX(0.9635);transform-origin:0 50%;">Período</span>
<div class="abs" style="left:564.2px;top:655.4px;width:294.6px;height:1px;background:#e2e2e2"></div>
<svg class="abs" style="left:602px;top:683.7px" width="28" height="27" viewBox="0 0 28 27"><circle cx="3.8" cy="2.3" r="2.2" fill="#2a7de1"/><path fill="#2a7de1" d="M0.2 5.8 L3.8 7.8 L7.4 5.8 V12.4 H0.2 Z"/><circle cx="23.6" cy="2.3" r="2.2" fill="#2a7de1"/><path fill="#2a7de1" d="M20 5.8 L23.6 7.8 L27.2 5.8 V12.4 H20 Z"/><circle cx="13.4" cy="15.9" r="11.7" fill="#fff"/><circle cx="13.4" cy="15.9" r="9.4" fill="none" stroke="#2a7de1" stroke-width="3.2"/><path d="M21.4 22.8 L26.4 26" stroke="#2a7de1" stroke-width="3.2" stroke-linecap="round"/><circle cx="13.4" cy="11.9" r="1.8" fill="#2a7de1"/><path fill="#2a7de1" d="M9.2 15.2 H12 L13.4 17 L14.8 15.2 H17.6 V20.8 H9.2 Z"/></svg>
<svg class="abs" style="left:697.3px;top:684.4px" width="28" height="26" viewBox="0 0 28 26"><path fill="#666c76" opacity="0.75" d="M0.4 4.8 Q0.4 3.4 1.8 3.4 H4.6 V25.4 H1.8 Q0.4 25.4 0.4 24 Z"/><path fill="#fff" stroke="#666c76" stroke-width="0.9" d="M3.8 0.5 H17.4 L19.8 2.8 V10 H3.8 Z"/><path d="M6.2 3 H16 M6.2 5.4 H17" stroke="#666c76" stroke-width="1.2"/><path fill="#666c76" d="M7 8.2 H26.2 Q27.8 8.2 27.5 9.6 L24.7 24 Q24.4 25.4 23 25.4 H1.4 L5.4 9.6 Q5.7 8.2 7 8.2 Z"/></svg>
<svg class="abs" style="left:793.6px;top:683.6px" width="28" height="28" viewBox="0 0 24 24"><path fill="#f5713b" d="M12 4.4 C6 4.4 2 9 0.4 12 C2 15 6 19.6 12 19.6 C18 19.6 22 15 23.6 12 C22 9 18 4.4 12 4.4 Z"/><circle cx="12" cy="12" r="4.6" fill="#fff"/><circle cx="12" cy="12" r="2.3" fill="#f5713b"/></svg>
<span class="t" style="top:721.00px;font-size:27px;color:#2a7de1;left:608.35px;transform:scaleX(1.0046);transform-origin:0 50%;-webkit-text-stroke:0.9px #2a7de1;">0</span>
<span class="t" style="top:721.00px;font-size:27px;color:#666c76;left:704.00px;-webkit-text-stroke:0.9px #666c76;">0</span>
<span class="t" style="top:721.00px;font-size:27px;color:#f5713b;left:800.45px;transform:scaleX(0.9647);transform-origin:0 50%;-webkit-text-stroke:0.9px #f5713b;">5</span>
<span class="t" style="top:757.00px;font-size:12px;color:#444;left:602.80px;transform:scaleX(1.0489);transform-origin:0 50%;">Total</span>
<span class="t" style="top:757.00px;font-size:12px;color:#444;left:680.90px;transform:scaleX(1.0109);transform-origin:0 50%;">Arquivados</span>
<span class="t" style="top:757.00px;font-size:12px;color:#444;left:780.80px;transform:scaleX(1.0098);transform-origin:0 50%;">Ignorados</span>
<svg class="abs" style="left:838.3px;top:757.6px" width="10.7" height="10.7" viewBox="0 0 24 24"><circle cx="12" cy="12" r="11.4" fill="#1f6fc0"/><text x="12" y="18" font-family="Liberation Sans" font-size="17" font-weight="700" text-anchor="middle" fill="#fff">?</text></svg>
<div class="card" style="left:879.6px;top:569px;width:307.4px;height:230px"></div>
<span class="t" style="top:575.00px;font-size:19.5px;color:#1a1a1a;font-weight:700;left:889.60px;transform:scaleX(0.9209);transform-origin:0 50%;">$</span>
<span class="t" style="top:577.00px;font-size:16.8px;color:#222;left:908.00px;">Funil de Negócios</span>
<span class="t" style="top:601.00px;font-size:11px;color:#222;left:887.00px;transform:scaleX(0.9416);transform-origin:0 50%;">Total de negócios por fúnil e Etapa.</span>
<svg class="abs" style="left:1167.4px;top:587.2px" width="13.2" height="13.2" viewBox="0 0 24 24"><g fill="none" stroke="#1a1a1a" stroke-width="2.6" stroke-linecap="round"><path d="M3.4 10.4 A8.8 8.8 0 0 1 19.6 7.2"/><path d="M20.6 13.6 A8.8 8.8 0 0 1 4.4 16.8"/></g><path fill="#1a1a1a" d="M21.8 2.4 V9.4 H14.8 Z"/><path fill="#1a1a1a" d="M2.2 21.6 V14.6 H9.2 Z"/></svg>
<div class="abs" style="left:887px;top:620px;width:293px;height:1px;background:repeating-linear-gradient(90deg,#ececec 0 2px,transparent 2px 3px)"></div>
<svg class="abs" style="left:992.3px;top:640px" width="16" height="15.4" viewBox="0 0 24 24"><path fill="#1a1a1a" d="M0.4 0.6 H23.6 L21 6.6 H3 Z"/><path fill="#1a1a1a" d="M4 8.4 H20 L18.4 12.2 H5.6 Z"/><path fill="#1a1a1a" d="M6.6 13.8 H17.4 L16.4 17.2 H7.6 Z"/><rect x="8.2" y="18.8" width="7.6" height="4.8" fill="#1a1a1a"/></svg>
<span class="t" style="top:641.00px;font-size:16px;color:#1a1a1a;font-weight:700;left:1012.80px;transform:scaleX(0.9147);transform-origin:0 50%;">VENDAS</span>
<div class="abs" style="left:887px;top:666px;width:293px;height:1px;background:#c3c8d2"></div>
<svg class="abs" style="left:879px;top:670px" width="310" height="110" viewBox="879 670 310 110"><path d="M897.5 676.2 H1168.4 L1156.2 711.6 H911.6 Z" fill="#a5f3a8"/><path d="M909.8 715.8 H1157.2 L1144.8 751.9 H923.5 Z" fill="#d0f9c4"/><path d="M921.7 756.1 H1145 L1132.6 792 H935.4 Z" fill="#00e07c"/></svg>
<span class="t" style="top:687.00px;font-size:16.7px;color:#fff;left:974.80px;text-shadow:-0.8px 0 #86c98a,0.8px 0 #86c98a,0 -0.8px #86c98a,0 0.8px #86c98a,0.6px 0.6px #86c98a,-0.6px -0.6px #86c98a,0.6px -0.6px #86c98a,-0.6px 0.6px #86c98a;">Aguardando</span>
<span class="t" style="top:684.00px;font-size:20px;color:#fff;font-weight:700;left:1071.00px;transform:scaleX(0.9933);transform-origin:0 50%;text-shadow:-0.8px 0 #86c98a,0.8px 0 #86c98a,0 -0.8px #86c98a,0 0.8px #86c98a,0.6px 0.6px #86c98a,-0.6px -0.6px #86c98a,0.6px -0.6px #86c98a,-0.6px 0.6px #86c98a;">58</span>
<span class="t" style="top:727.00px;font-size:16.7px;color:#fff;left:957.40px;transform:scaleX(0.9800);transform-origin:0 50%;text-shadow:-0.8px 0 #a9d6a0,0.8px 0 #a9d6a0,0 -0.8px #a9d6a0,0 0.8px #a9d6a0,0.6px 0.6px #a9d6a0,-0.6px -0.6px #a9d6a0,0.6px -0.6px #a9d6a0,-0.6px 0.6px #a9d6a0;">Led sem resposta</span>
<span class="t" style="top:724.00px;font-size:20px;color:#fff;font-weight:700;left:1093.00px;transform:scaleX(0.9888);transform-origin:0 50%;text-shadow:-0.8px 0 #a9d6a0,0.8px 0 #a9d6a0,0 -0.8px #a9d6a0,0 0.8px #a9d6a0,0.6px 0.6px #a9d6a0,-0.6px -0.6px #a9d6a0,0.6px -0.6px #a9d6a0,-0.6px 0.6px #a9d6a0;">5</span>
<span class="t" style="top:766.00px;font-size:16.7px;color:#fff;left:957.40px;transform:scaleX(0.9636);transform-origin:0 50%;text-shadow:-0.8px 0 #0fb565,0.8px 0 #0fb565,0 -0.8px #0fb565,0 0.8px #0fb565,0.6px 0.6px #0fb565,-0.6px -0.6px #0fb565,0.6px -0.6px #0fb565,-0.6px 0.6px #0fb565;">Em Atendimento</span>
<span class="t" style="top:763.00px;font-size:20px;color:#fff;font-weight:700;left:1081.00px;transform:scaleX(0.9888);transform-origin:0 50%;text-shadow:-0.8px 0 #0fb565,0.8px 0 #0fb565,0 -0.8px #0fb565,0 0.8px #0fb565,0.6px 0.6px #0fb565,-0.6px -0.6px #0fb565,0.6px -0.6px #0fb565,-0.6px 0.6px #0fb565;">10</span>
<svg class="abs" style="left:1080px;top:590px" width="90" height="145" viewBox="1080 590 90 145">
<g stroke="#cfc9d6" stroke-width="0.9" fill="none" stroke-linecap="round">
 <path d="M1149.6 606 C1153.6 618 1155.6 632 1156.6 652"/>
 <path d="M1153.4 642 L1156 662"/>
 <path d="M1149.4 668 L1154.4 694"/>
 <path d="M1098.4 686 L1103.4 708"/>
 <path d="M1141.4 690 L1145 706"/>
</g><path d="M1107.6 700 H1139 C1139.6 710 1136.6 718 1134.2 728.4 C1131 725 1128 721 1125.6 717 L1120.6 727 C1114 720 1107.6 711 1107.6 700 Z" fill="#f4f2f6"/>
<g fill="#ffffff" stroke="#f4f2f6" stroke-width="5.5" stroke-linejoin="round" stroke-linecap="round">
 <!-- left arm -->
 <path d="M1104.5 646.5 C1098 652 1094.5 662 1092.5 670 C1089.5 671.5 1088 675.5 1089.5 678.5 C1092 680.5 1096 679 1097.5 676 C1100.5 668 1104 660 1107.5 654 Z"/>
 <!-- right arm -->
 <path d="M1130.5 646.5 C1137 652 1141.5 661 1143.5 669 C1147 670 1148.5 674 1147.5 677.5 C1145 680 1140.5 678.5 1139 675.5 C1136 668 1132 660 1128 654 Z"/>
 <!-- legs -->
 <path d="M1106.5 671 L1106 690 C1105 693 1105.2 697 1106.5 700.5 H1117.6 C1118.4 697 1118.4 693 1117.8 690 L1118.4 674 Z"/>
 <path d="M1119.4 674 L1120 690 C1119.4 693 1119.6 697 1120.6 700.5 H1132 C1133 697 1133 693 1132 690 L1131.8 671 Z"/>
 <!-- torso -->
 <path d="M1104 646 C1102 655 1102.5 666 1105.5 675.5 H1132.5 C1135 666 1135 655 1132.5 646 C1124 641.5 1112 641.5 1104 646 Z"/>
</g><ellipse cx="1120.6" cy="624.4" rx="27.2" ry="28.4" fill="#f4f2f6"/><ellipse cx="1142.6" cy="632.2" rx="9" ry="10.4" fill="#f4f2f6"/>
<g>
 <defs><linearGradient id="fl" x1="0" y1="0" x2="0" y2="1"><stop offset="0" stop-color="#fdd835"/><stop offset="0.45" stop-color="#f9a02a"/><stop offset="0.8" stop-color="#f0602a"/><stop offset="1" stop-color="#e23b26"/></linearGradient></defs><path d="M1109.8 701 H1121.8 C1122.2 709 1120 716 1119.4 721 C1114.6 716 1109.6 710 1109.8 701 Z" fill="url(#fl)"/>
 <path d="M1122.8 701 H1136.8 C1137.4 709 1134 717 1133.4 725.4 C1128 719 1122.8 710 1122.8 701 Z" fill="url(#fl)"/>
 <path d="M1112 701 H1120 C1120.2 705 1119.2 708 1118.4 711.4 C1115 708.4 1112 705 1112 701 Z" fill="#fee257"/>
 <path d="M1125 701 H1134.6 C1135 705 1133.4 708.4 1132.4 712 C1128.6 709 1125 705 1125 701 Z" fill="#fee257"/>
 
 
</g>
<g fill="#ffffff" stroke="#7d6b8e" stroke-width="0.9" stroke-linejoin="round" stroke-linecap="round">
 <!-- left arm -->
 <path d="M1104.5 646.5 C1098 652 1094.5 662 1092.5 670 C1089.5 671.5 1088 675.5 1089.5 678.5 C1092 680.5 1096 679 1097.5 676 C1100.5 668 1104 660 1107.5 654 Z"/>
 <!-- right arm -->
 <path d="M1130.5 646.5 C1137 652 1141.5 661 1143.5 669 C1147 670 1148.5 674 1147.5 677.5 C1145 680 1140.5 678.5 1139 675.5 C1136 668 1132 660 1128 654 Z"/>
 <!-- legs -->
 <path d="M1106.5 671 L1106 690 C1105 693 1105.2 697 1106.5 700.5 H1117.6 C1118.4 697 1118.4 693 1117.8 690 L1118.4 674 Z"/>
 <path d="M1119.4 674 L1120 690 C1119.4 693 1119.6 697 1120.6 700.5 H1132 C1133 697 1133 693 1132 690 L1131.8 671 Z"/>
 <!-- torso -->
 <path d="M1104 646 C1102 655 1102.5 666 1105.5 675.5 H1132.5 C1135 666 1135 655 1132.5 646 C1124 641.5 1112 641.5 1104 646 Z"/>
</g>
<g fill="none" stroke="#7d6b8e" stroke-width="0.7">
 <rect x="1103.6" y="658.4" width="18.6" height="11" rx="2.4" fill="#ffffff"/>
 <rect x="1106.6" y="660.4" width="12.6" height="7" rx="1.6" fill="#e3dcea" stroke="none"/>
 <path d="M1122.2 662.6 H1131.6 V665.4 H1122.2" fill="#ffffff"/>
 <path d="M1106 690.4 H1117.8 M1120 690.4 H1132" />
 <path d="M1106.2 686.6 H1117.8 M1120 686.6 H1132" />
</g>
<circle cx="1114.4" cy="664" r="2.1" fill="#2f7fd6"/><circle cx="1113.8" cy="663.4" r="0.8" fill="#9fd0ff"/>
<path d="M1128 648 C1131 656 1132 666 1130.6 675" fill="none" stroke="#e3dcea" stroke-width="3"/>
<path d="M1128.6 676 V699 M1115.6 676 V699" stroke="#e3dcea" stroke-width="2.6" fill="none"/>

<g>
 <ellipse cx="1120.6" cy="624.4" rx="24.8" ry="26" fill="#ffffff" stroke="#7d6b8e" stroke-width="0.9"/>
 <path d="M1133 604.5 C1141.5 611 1145 622 1143.4 633" fill="none" stroke="#7d6b8e" stroke-width="0.8"/>
 <ellipse cx="1118.2" cy="623.8" rx="21.6" ry="22.8" fill="#6d4f7c"/>
 <ellipse cx="1119" cy="624.8" rx="20.2" ry="21.2" fill="#2a2030"/>
 <path d="M1101.4 620 C1102.4 611 1108.6 604.6 1117 603.4" fill="none" stroke="#b79cc4" stroke-width="1.8" stroke-linecap="round"/>
 <circle cx="1132.6" cy="622.6" r="3.5" fill="#9d86ab"/>
 <circle cx="1131.8" cy="629.6" r="1.3" fill="#9d86ab"/>
 <ellipse cx="1142.6" cy="632.2" rx="6.4" ry="8" fill="#ffffff" stroke="#7d6b8e" stroke-width="0.9"/>
 <ellipse cx="1144" cy="632.4" rx="3.6" ry="5.6" fill="#e3dcea" stroke="#7d6b8e" stroke-width="0.6"/>
</g></svg>
<div class="abs" style="left:1166.6px;top:598.3px;width:20.4px;height:20.4px;border-radius:50%;background:#6f6f6f"></div>
<svg class="abs" style="left:1169.6px;top:601.3px" width="14.4" height="14.4" viewBox="0 0 24 24"><path d="M6 6 L18 18 M18 6 L6 18" stroke="#fff" stroke-width="2.6" stroke-linecap="round"/></svg>
<div class="abs" style="left:1059.6px;top:727.2px;width:104px;height:30.4px;border-radius:6px;background:#f4f4f4;box-shadow:0 0 4px rgba(0,0,0,.10)"></div>
<span class="t" style="top:729.00px;font-size:12.4px;color:#262626;left:1089.90px;transform:scaleX(1.1723);transform-origin:0 50%;">Fazer tour</span>
<span class="t" style="top:743.00px;font-size:12.4px;color:#262626;left:1086.20px;transform:scaleX(1.2135);transform-origin:0 50%;">novamente</span>
<div class="abs" style="left:1152.9px;top:723.6px;width:34px;height:34.2px;border-radius:50% 50% 4px 50%;background:#1f3b62"></div>
<div class="abs" style="left:1153.6px;top:724.2px;width:32.4px;height:32.6px;border-radius:50%;background:#3070b0"></div>
<svg class="abs" style="left:1162px;top:733.7px" width="17.6" height="13.7" viewBox="10.9 10.9 28 20"><path d="M24.9 28.95 H32.6 C35.6 28.95 37.1 26.8 36.85 24.5 C36.7 23.3 36.1 22.3 35.05 21.55 L24.3 13.55 L12.95 21.6 V28.85 H16.4 L23.0 24.1 H24.7" fill="none" stroke="#fff" stroke-width="4.6" stroke-linejoin="round" stroke-linecap="butt"/></svg>
<div class="abs" style="left:1176.2px;top:720.9px;width:14.2px;height:14.2px;border-radius:50%;background:#f47c7c;border:1.2px solid #fff"></div>
<span class="t" style="top:725.00px;font-size:7.6px;color:#fff;font-weight:700;left:1181.18px;">1</span>
</body>
</html>
